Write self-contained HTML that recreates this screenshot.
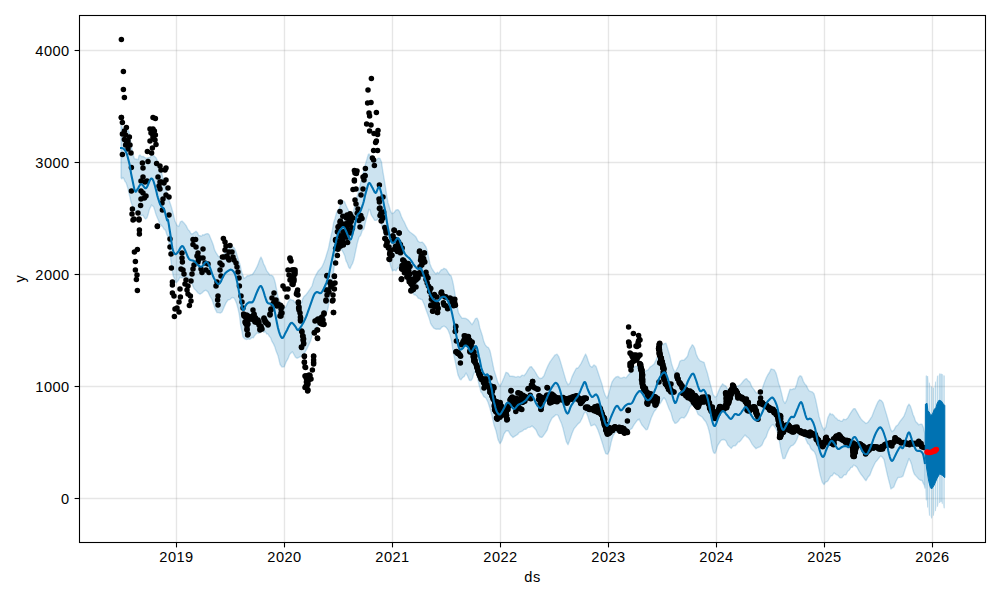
<!DOCTYPE html>
<html><head><meta charset="utf-8"><title>forecast</title>
<style>
html,body{margin:0;padding:0;background:#fff;}
body{width:1000px;height:600px;overflow:hidden;font-family:"Liberation Sans",sans-serif;}
svg{display:block}
text{font-family:"Liberation Sans",sans-serif;font-size:14.6px;fill:#000;letter-spacing:0.45px}
</style></head><body>
<svg width="1000" height="600" viewBox="0 0 1000 600">
<rect width="1000" height="600" fill="#fff"/>
<g stroke="#808080" stroke-opacity="0.2" stroke-width="1.39"><line x1="176.5" y1="15.5" x2="176.5" y2="542.5"/><line x1="284.5" y1="15.5" x2="284.5" y2="542.5"/><line x1="392.5" y1="15.5" x2="392.5" y2="542.5"/><line x1="500.5" y1="15.5" x2="500.5" y2="542.5"/><line x1="608.5" y1="15.5" x2="608.5" y2="542.5"/><line x1="716.5" y1="15.5" x2="716.5" y2="542.5"/><line x1="824.5" y1="15.5" x2="824.5" y2="542.5"/><line x1="932.5" y1="15.5" x2="932.5" y2="542.5"/><line x1="79.5" y1="498.5" x2="985.5" y2="498.5"/><line x1="79.5" y1="386.5" x2="985.5" y2="386.5"/><line x1="79.5" y1="274.5" x2="985.5" y2="274.5"/><line x1="79.5" y1="162.5" x2="985.5" y2="162.5"/><line x1="79.5" y1="50.5" x2="985.5" y2="50.5"/></g>
<polygon points="121.0,124.8 121.0,125.2 121.9,126.8 123.0,129.7 124.0,129.9 125.0,130.7 126.0,131.4 127.0,131.1 127.9,130.2 129.0,131.5 130.3,139.3 131.6,147.6 133.0,154.3 134.4,158.8 135.7,158.9 137.0,159.5 138.1,159.5 139.0,155.8 140.0,154.9 140.9,155.9 141.9,156.8 143.0,156.3 144.5,157.3 146.2,158.4 148.0,157.8 149.9,157.6 152.0,154.4 154.0,155.9 156.0,157.8 158.0,161.9 160.0,167.9 162.0,174.2 164.1,183.2 166.0,189.5 167.7,196.4 169.3,200.8 171.0,205.7 173.0,212.8 175.0,221.3 177.0,225.4 178.7,226.4 180.3,221.9 182.0,221.0 184.0,222.9 186.1,225.6 188.0,229.5 189.5,230.9 190.7,233.3 192.0,234.1 193.3,233.3 194.7,232.3 196.0,231.2 197.3,232.4 198.7,235.5 200.0,235.6 201.3,236.4 202.7,234.7 204.0,235.1 205.3,234.1 206.7,233.7 208.0,233.6 209.3,235.0 210.7,238.4 212.0,241.5 213.3,245.0 214.7,250.2 216.0,252.6 217.3,254.7 218.5,256.6 220.0,256.5 221.9,256.0 223.9,254.5 226.0,251.3 228.1,249.3 230.1,246.2 232.0,246.4 233.5,247.2 234.7,248.7 236.0,251.8 237.3,256.1 238.7,260.8 240.0,264.5 241.3,270.6 242.6,274.6 244.0,278.3 245.6,277.5 247.3,275.7 249.0,275.8 250.7,274.9 252.4,274.5 254.0,272.1 255.4,269.8 256.8,267.1 258.0,264.4 259.0,261.6 260.0,258.9 261.0,257.1 262.2,259.5 263.6,263.8 265.0,266.4 266.6,270.6 268.4,272.9 270.0,275.4 271.4,275.3 272.7,275.9 274.0,278.4 275.3,282.8 276.5,288.9 278.0,296.7 279.9,301.7 281.9,305.3 284.0,307.1 285.9,307.1 287.7,302.7 290.0,299.1 291.6,299.9 293.3,300.1 294.5,302.2 295.7,301.8 297.0,303.9 298.5,304.1 300.0,303.2 301.7,302.5 302.7,298.8 304.0,296.5 305.9,294.9 307.9,292.2 310.0,289.2 312.0,286.0 314.0,279.0 316.0,274.9 318.0,271.3 320.1,269.1 322.0,266.7 323.8,262.8 325.4,258.5 327.0,253.1 328.4,248.8 329.7,242.1 331.0,236.0 332.3,230.6 333.6,222.8 335.0,218.5 336.6,212.4 338.4,209.7 340.0,206.6 341.3,202.6 342.5,200.8 343.6,200.9 344.7,201.9 345.8,204.9 347.0,207.5 348.6,210.7 350.3,214.8 352.0,215.8 353.4,211.8 354.7,205.7 356.0,199.3 357.2,196.1 358.4,192.0 360.0,185.5 362.3,176.3 363.6,171.4 364.9,165.9 367.0,158.9 368.3,154.5 369.1,153.9 370.0,155.8 371.2,156.3 372.5,160.2 374.0,161.7 375.9,161.2 378.1,158.1 380.0,158.5 381.5,162.1 382.7,170.5 384.0,178.2 385.3,186.1 386.7,195.3 388.0,202.7 389.3,206.7 390.5,211.2 392.0,213.7 393.9,212.7 396.0,210.0 398.0,209.6 399.7,211.7 401.4,216.6 403.0,219.9 404.6,222.7 406.3,226.6 408.0,229.9 409.9,232.0 412.0,233.5 414.0,235.1 416.0,237.1 418.0,241.1 420.0,242.5 422.1,242.1 424.1,244.1 426.0,247.0 427.4,251.4 428.6,257.3 430.0,264.0 431.8,268.4 433.8,271.5 436.0,274.1 437.3,272.3 438.6,273.5 440.0,271.4 441.4,269.8 442.7,269.6 444.0,268.3 446.3,269.4 448.4,272.8 450.0,275.3 450.9,275.4 451.3,276.6 452.0,278.7 453.2,283.7 454.6,291.7 456.0,300.3 457.3,307.0 458.5,312.8 460.0,315.3 461.9,318.1 463.9,318.2 466.0,318.5 468.0,319.8 470.1,322.1 472.0,324.7 473.8,321.8 475.4,318.7 477.0,318.1 478.4,321.0 479.7,327.4 481.0,331.5 482.3,335.5 483.6,340.7 485.0,344.3 486.6,346.6 488.4,347.6 490.0,350.8 491.3,356.7 492.6,363.1 494.0,370.0 495.9,376.0 497.9,382.6 500.0,386.2 502.0,382.3 504.0,377.5 506.0,372.3 508.0,373.1 510.0,376.3 512.0,376.2 514.0,376.5 516.0,377.2 518.0,376.4 520.0,377.1 522.0,375.2 524.0,375.7 526.1,373.1 528.1,369.6 530.0,366.9 531.4,366.6 532.7,368.5 534.0,370.0 535.6,372.5 537.3,375.6 539.0,377.9 540.6,378.5 542.3,377.8 544.0,375.8 545.9,370.5 547.9,365.9 550.0,361.9 552.3,358.7 553.6,356.9 554.8,355.2 557.0,354.2 558.8,356.7 560.3,361.1 562.0,366.9 563.9,373.4 566.0,380.7 568.0,384.9 570.0,383.0 571.9,377.1 574.0,372.6 576.3,368.2 577.6,368.2 578.8,366.9 581.0,363.6 582.7,360.1 584.2,356.7 585.6,354.0 587.0,357.1 588.4,361.6 590.0,365.7 591.9,367.3 593.9,364.9 596.0,366.4 598.0,372.3 600.1,378.6 602.0,384.2 603.7,391.1 605.4,395.7 607.0,398.2 608.6,394.2 610.3,387.7 612.0,382.1 613.9,379.1 616.0,377.0 618.0,376.4 620.0,377.9 622.0,377.9 624.0,377.2 626.0,377.9 628.0,375.3 630.0,373.2 631.9,371.2 633.9,367.3 636.0,366.0 637.3,366.8 638.6,366.8 640.0,368.9 641.4,369.4 642.7,371.1 644.0,372.2 646.1,370.7 648.1,369.8 650.0,367.1 652.0,365.7 654.1,364.0 656.0,360.1 657.7,355.8 659.4,350.5 661.0,345.2 662.7,344.9 664.4,343.6 666.0,343.2 667.4,347.8 668.6,351.7 670.0,356.3 671.6,363.7 673.3,368.9 675.0,372.5 676.6,369.5 678.3,366.3 680.0,361.1 682.0,360.2 684.1,360.0 686.0,358.0 687.5,356.2 688.8,351.6 690.0,348.6 691.1,347.0 692.2,344.7 693.4,345.8 694.8,348.6 696.3,354.4 698.0,358.1 699.9,360.7 702.0,361.6 704.0,362.3 705.7,367.9 707.3,372.7 709.0,379.5 711.0,386.6 713.0,394.4 715.0,397.2 716.8,396.0 718.4,391.6 720.0,387.9 721.3,385.8 722.6,383.8 724.0,385.2 725.8,386.0 727.8,389.6 730.0,391.6 731.3,389.8 732.6,391.0 734.0,389.5 735.4,387.6 736.7,386.4 738.0,385.9 740.2,384.9 742.2,382.5 744.0,380.2 745.4,379.0 746.6,378.6 748.0,380.6 749.9,382.1 751.9,386.9 754.0,389.6 756.0,392.6 758.0,393.4 760.0,392.3 762.0,389.8 764.1,383.2 766.0,378.4 767.7,375.0 769.4,372.5 771.0,369.0 772.7,369.4 774.4,370.0 776.0,373.0 777.4,377.9 778.6,383.2 780.0,387.1 781.6,393.4 783.3,400.7 785.0,403.4 786.7,400.1 788.3,394.5 790.0,389.3 791.7,389.6 793.3,388.8 795.0,388.7 796.7,384.2 798.3,378.0 800.0,375.7 801.7,376.7 803.4,381.5 805.0,384.2 806.4,385.6 807.6,388.3 809.0,390.7 810.6,391.5 812.3,391.9 814.0,393.8 815.7,399.9 817.3,407.6 819.0,416.2 820.6,422.0 822.3,426.9 824.0,429.9 825.9,427.0 827.8,417.9 830.0,413.3 831.3,414.7 832.5,414.2 833.9,415.7 835.3,417.7 836.6,418.4 838.0,420.1 839.4,420.3 840.8,421.3 842.2,421.2 843.6,419.1 844.8,419.6 846.0,419.5 847.9,417.7 849.5,414.8 851.0,412.3 852.3,410.5 853.6,408.7 855.0,408.6 856.9,411.8 859.0,415.6 861.0,418.9 862.7,420.8 864.3,422.0 866.0,423.5 867.9,422.3 870.0,419.3 872.0,416.3 874.0,411.0 876.1,405.9 878.0,401.8 879.7,399.8 881.4,400.6 883.0,402.6 884.7,408.6 886.4,414.1 888.0,419.7 889.3,424.6 890.6,429.1 892.0,431.7 893.9,430.1 895.9,426.4 898.0,424.7 900.0,421.4 902.1,418.8 904.0,416.1 905.8,411.4 907.4,406.6 909.0,404.1 910.4,406.1 911.7,409.9 913.0,414.5 914.3,417.4 915.6,421.4 917.0,422.7 918.7,424.8 920.4,424.2 922.0,424.2 923.3,427.2 924.3,431.6 925.0,434.0 925.0,488.0 924.3,485.2 923.3,483.4 922.0,480.4 920.4,480.2 918.7,479.0 917.0,477.1 915.6,475.6 914.3,474.0 913.0,470.6 911.7,464.8 910.5,461.4 909.0,458.6 907.1,464.0 905.0,469.7 903.0,476.1 901.3,477.1 899.7,477.4 898.0,477.5 896.0,481.3 893.8,487.0 892.0,488.1 890.9,488.9 890.0,485.2 889.0,481.3 887.5,475.4 885.7,467.3 884.0,459.5 882.4,457.3 880.8,455.9 879.0,457.9 876.8,460.8 875.6,462.0 874.3,464.5 872.0,469.4 869.9,475.0 867.9,477.3 866.0,480.7 864.3,478.7 862.7,476.4 861.0,474.3 859.0,471.1 856.9,467.2 855.0,465.6 853.6,465.1 852.3,467.2 851.0,467.4 849.4,470.0 847.8,471.2 846.0,474.7 844.1,474.9 842.0,477.7 840.0,477.9 838.1,475.5 836.3,474.6 834.0,472.9 832.4,475.5 830.7,476.2 829.5,478.1 828.3,480.2 827.0,481.7 825.5,482.2 824.0,484.6 822.2,482.1 821.1,478.4 820.0,474.1 818.7,468.0 817.4,461.6 816.0,455.6 814.4,451.7 812.7,450.4 811.0,448.8 809.3,444.8 807.7,443.4 806.0,439.7 804.4,436.1 802.7,431.6 801.0,429.9 799.1,433.0 797.0,439.3 795.0,443.1 793.0,445.2 791.0,446.0 789.0,448.7 787.0,453.1 784.9,458.5 783.0,458.6 781.3,451.8 779.6,442.3 778.0,434.0 776.3,429.3 774.7,426.9 773.0,424.5 771.4,425.6 769.7,428.2 768.0,431.5 766.1,437.2 764.0,440.2 762.0,445.0 760.0,446.8 758.0,447.5 756.0,448.7 754.0,446.6 751.9,443.8 750.0,440.2 748.3,437.8 746.8,436.8 745.0,435.1 742.9,437.6 740.5,440.8 739.2,442.1 738.0,442.1 736.7,444.3 735.3,445.8 733.9,445.6 732.6,446.6 731.3,448.4 730.0,447.2 727.8,445.0 725.9,440.8 724.0,439.5 722.2,439.7 720.6,440.8 719.0,443.4 717.6,445.6 716.2,450.4 715.0,453.5 713.9,452.9 713.0,451.1 712.0,447.0 711.1,441.9 710.1,435.5 709.0,430.8 707.5,425.6 705.8,421.8 704.0,419.7 702.1,417.0 700.0,415.7 698.0,414.2 696.0,409.3 694.0,406.4 692.0,404.8 690.0,406.7 688.0,411.9 686.0,415.8 684.0,418.1 681.9,417.4 680.0,418.7 678.3,421.3 676.7,422.8 675.0,423.4 673.0,420.2 671.0,412.7 669.0,408.8 667.2,403.9 665.6,399.7 664.0,397.7 662.7,399.4 661.4,401.6 660.0,403.8 658.1,406.0 655.9,409.5 654.0,411.7 652.5,415.1 651.3,417.8 650.0,421.7 648.7,425.7 647.5,429.3 646.0,429.8 644.0,427.4 641.8,424.8 640.0,421.3 639.2,418.9 638.8,420.0 638.0,419.5 636.3,421.7 634.1,424.7 632.0,428.4 630.0,429.8 628.1,431.8 626.0,434.1 623.7,433.1 622.5,432.1 621.3,432.3 619.0,431.7 616.9,432.1 614.9,432.8 613.0,436.0 611.2,442.1 609.4,450.8 607.6,454.3 605.8,453.7 603.9,448.4 602.0,442.0 600.0,435.9 597.9,429.9 596.0,426.0 594.3,424.3 592.6,425.3 591.0,425.9 589.4,421.6 587.7,416.0 586.0,411.7 584.1,413.2 582.0,418.4 580.0,422.3 578.0,423.9 576.0,426.4 574.0,428.7 572.0,433.5 569.9,439.7 568.0,444.7 566.3,441.7 564.6,434.9 563.0,428.3 561.4,423.1 559.7,419.5 558.0,415.3 556.1,414.6 554.1,416.4 552.0,418.1 549.7,422.8 548.4,426.0 547.2,430.0 545.0,433.3 543.2,435.9 541.7,437.4 540.0,437.0 538.1,434.7 536.0,429.9 534.0,427.8 532.1,425.9 530.1,427.3 528.0,427.4 526.7,428.6 525.4,429.3 524.1,429.4 522.7,430.8 521.3,431.5 520.0,432.1 518.8,432.8 517.6,434.5 515.3,435.9 513.0,437.5 510.6,435.1 508.3,430.8 506.0,431.0 503.9,434.2 502.0,440.3 500.0,443.7 498.0,439.6 496.0,430.7 494.0,424.9 492.0,416.0 490.0,408.5 488.0,402.3 485.9,398.0 483.8,396.7 482.0,393.1 480.8,391.7 480.0,388.1 479.0,384.7 477.7,378.6 476.4,373.9 475.0,371.5 473.7,373.8 472.4,378.6 471.0,380.5 469.4,380.2 467.7,376.2 466.0,373.0 464.3,376.5 462.5,377.7 461.0,379.8 459.9,379.1 459.0,377.1 458.0,374.9 456.7,368.9 455.4,362.4 454.0,355.8 452.7,348.9 451.5,341.2 450.0,335.0 448.1,330.2 446.1,327.4 444.0,326.1 442.0,327.0 440.0,329.2 438.0,329.0 435.9,329.2 433.9,328.2 432.0,325.8 430.6,323.4 429.4,319.1 428.0,315.1 426.2,310.3 424.2,304.2 422.0,299.5 420.8,299.4 419.6,298.5 418.2,298.2 416.9,296.1 415.4,295.0 414.0,294.8 412.3,291.0 410.6,287.6 409.3,284.6 408.1,282.8 406.9,280.8 405.4,276.4 404.0,274.4 402.6,269.4 401.9,267.2 401.0,265.3 399.5,266.6 397.7,267.9 396.0,270.8 394.3,269.9 392.5,270.9 391.0,267.0 389.9,263.1 389.1,258.2 388.0,251.5 386.4,244.8 384.7,235.9 383.0,230.4 381.6,225.3 380.2,220.1 379.0,217.1 378.0,218.8 377.0,219.9 376.0,220.4 374.7,220.4 373.3,218.2 372.0,216.2 371.0,214.4 370.1,210.0 369.0,209.2 367.5,214.9 365.7,221.0 364.0,228.8 362.3,230.6 360.7,235.2 359.0,237.2 357.3,243.3 355.6,251.3 354.0,259.0 352.6,263.5 351.3,265.7 350.0,268.7 348.7,267.3 347.3,263.2 346.0,260.8 344.7,255.6 343.5,253.0 342.0,250.2 340.2,249.0 338.2,250.2 336.0,256.4 334.7,263.0 333.5,272.0 332.1,281.4 330.7,291.3 329.4,299.4 328.0,308.6 326.6,312.7 325.3,315.9 323.9,319.3 322.5,321.5 321.3,321.7 320.0,324.1 317.8,325.8 315.9,328.7 314.0,329.6 312.3,334.8 310.7,340.6 309.0,344.4 307.1,348.4 305.0,352.2 303.0,354.5 300.9,356.4 298.9,357.4 297.0,358.3 295.4,357.1 293.9,354.3 292.4,351.8 291.0,353.1 289.6,354.4 288.0,358.7 286.1,361.9 284.1,366.9 282.0,367.1 280.1,364.5 278.1,356.1 276.0,350.8 274.7,346.6 273.5,343.9 272.1,341.7 270.7,337.9 269.4,336.4 268.0,334.0 266.7,334.0 265.3,331.5 264.0,332.3 262.7,330.6 261.3,331.1 260.0,332.8 258.6,333.3 257.3,332.9 255.9,334.1 254.6,335.7 253.3,337.9 252.0,337.4 250.7,338.8 249.4,339.3 248.2,338.9 247.0,339.5 245.0,339.1 243.7,337.8 242.9,336.7 242.0,331.5 240.7,325.6 239.4,315.2 238.0,308.5 236.7,303.8 235.5,300.7 234.0,298.0 232.1,297.5 230.1,299.4 228.0,300.0 226.0,302.9 223.9,307.6 222.0,312.0 220.3,313.1 218.6,312.6 217.0,312.6 215.4,309.4 213.7,304.8 212.0,299.5 210.1,296.5 208.0,291.9 206.0,290.2 204.0,291.0 202.0,293.0 200.0,294.2 198.0,293.0 196.0,290.5 194.0,288.6 192.1,283.8 190.1,281.3 188.0,277.3 186.7,276.9 185.3,276.3 183.9,276.9 182.4,277.8 181.2,277.9 180.0,277.1 178.4,280.6 177.2,281.8 176.0,282.9 174.7,279.0 173.3,276.1 172.0,269.5 170.8,260.0 169.6,247.3 168.0,236.7 166.7,234.3 165.5,230.2 164.0,229.1 162.5,226.5 161.3,225.4 160.0,224.4 158.4,220.2 157.2,217.4 156.0,214.5 154.7,210.1 153.5,206.5 152.4,205.8 151.5,205.1 150.8,206.8 150.0,208.1 149.1,210.6 148.1,214.6 147.0,217.7 145.7,219.0 144.3,217.7 143.0,215.2 141.9,215.5 141.0,215.6 140.0,214.5 139.0,212.8 138.1,213.1 137.0,212.7 135.7,211.2 134.3,209.3 133.0,207.8 131.9,204.6 131.0,202.1 130.0,197.5 129.0,193.3 128.0,188.7 127.0,185.5 126.0,182.6 125.0,181.5 124.0,179.0 122.9,177.4 121.9,178.9 121.0,177.9 121.0,177.9 121.0,176.3 121.0,177.0" fill="#0072B2" fill-opacity="0.2" stroke="#0072B2" stroke-opacity="0.2" stroke-width="1.39" stroke-linejoin="round"/>
<polygon points="926.0,376.0 927.8,376.0 929.4,383.0 931.5,386.7 933.5,388.0 935.5,382.0 937.5,376.0 940.0,374.0 942.0,374.0 944.8,376.0 944.8,509.5 943.5,506.2 941.3,501.3 939.6,502.4 936.9,507.3 934.1,514.0 931.9,518.4 929.2,515.0 927.0,504.0 924.8,488.6" fill="#0072B2" fill-opacity="0.08"/>
<g stroke="#0072B2" stroke-opacity="0.2" stroke-linecap="round"><line x1="926.4" y1="376.0" x2="926.4" y2="499.8" stroke-width="1.6"/><line x1="927.6" y1="376.5" x2="927.6" y2="507.0" stroke-width="1.2"/><line x1="929.4" y1="383.0" x2="929.4" y2="515.3" stroke-width="1.1"/><line x1="931.5" y1="386.7" x2="931.5" y2="517.9" stroke-width="1.1"/><line x1="933.5" y1="388.0" x2="933.5" y2="515.2" stroke-width="1.1"/><line x1="935.5" y1="382.0" x2="935.5" y2="510.6" stroke-width="1.1"/><line x1="937.5" y1="376.0" x2="937.5" y2="506.2" stroke-width="1.2"/><line x1="939.6" y1="374.0" x2="939.6" y2="502.4" stroke-width="1.3"/><line x1="941.0" y1="374.0" x2="941.0" y2="501.5" stroke-width="1.3"/><line x1="942.2" y1="374.5" x2="942.2" y2="503.3" stroke-width="1.2"/><line x1="944.1" y1="376.0" x2="944.1" y2="507.7" stroke-width="1.3"/></g>
<g fill="#000"><circle cx="121.4" cy="39.4" r="2.75"/><circle cx="121.4" cy="117.4" r="2.75"/><circle cx="121.4" cy="117.6" r="2.75"/><circle cx="122.4" cy="122.4" r="2.75"/><circle cx="122.4" cy="134.0" r="2.75"/><circle cx="122.4" cy="154.4" r="2.75"/><circle cx="123.4" cy="71.4" r="2.75"/><circle cx="123.4" cy="89.4" r="2.75"/><circle cx="124.4" cy="97.4" r="2.75"/><circle cx="124.4" cy="131.0" r="2.75"/><circle cx="124.4" cy="139.6" r="2.75"/><circle cx="125.6" cy="135.0" r="2.75"/><circle cx="125.6" cy="145.0" r="2.75"/><circle cx="126.4" cy="127.6" r="2.75"/><circle cx="126.6" cy="142.6" r="2.75"/><circle cx="128.0" cy="141.0" r="2.75"/><circle cx="128.0" cy="149.0" r="2.75"/><circle cx="129.4" cy="137.0" r="2.75"/><circle cx="130.0" cy="145.0" r="2.75"/><circle cx="131.0" cy="153.0" r="2.75"/><circle cx="131.4" cy="167.6" r="2.75"/><circle cx="131.4" cy="191.0" r="2.75"/><circle cx="132.0" cy="214.0" r="2.75"/><circle cx="132.4" cy="209.0" r="2.75"/><circle cx="133.0" cy="220.0" r="2.75"/><circle cx="134.0" cy="219.0" r="2.75"/><circle cx="134.4" cy="252.0" r="2.75"/><circle cx="135.4" cy="261.4" r="2.75"/><circle cx="135.4" cy="270.0" r="2.75"/><circle cx="136.4" cy="279.4" r="2.75"/><circle cx="137.0" cy="275.0" r="2.75"/><circle cx="137.4" cy="249.6" r="2.75"/><circle cx="137.4" cy="290.4" r="2.75"/><circle cx="138.0" cy="213.0" r="2.75"/><circle cx="139.0" cy="219.0" r="2.75"/><circle cx="139.0" cy="220.0" r="2.75"/><circle cx="139.4" cy="230.0" r="2.75"/><circle cx="139.4" cy="234.0" r="2.75"/><circle cx="140.6" cy="205.6" r="2.75"/><circle cx="141.0" cy="181.0" r="2.75"/><circle cx="141.0" cy="191.0" r="2.75"/><circle cx="141.0" cy="199.0" r="2.75"/><circle cx="142.4" cy="163.0" r="2.75"/><circle cx="143.0" cy="168.0" r="2.75"/><circle cx="143.0" cy="177.0" r="2.75"/><circle cx="143.0" cy="193.0" r="2.75"/><circle cx="144.4" cy="198.0" r="2.75"/><circle cx="145.0" cy="182.0" r="2.75"/><circle cx="146.0" cy="196.0" r="2.75"/><circle cx="147.0" cy="181.0" r="2.75"/><circle cx="147.4" cy="151.4" r="2.75"/><circle cx="148.0" cy="161.4" r="2.75"/><circle cx="150.0" cy="129.0" r="2.75"/><circle cx="150.0" cy="141.0" r="2.75"/><circle cx="151.0" cy="133.0" r="2.75"/><circle cx="151.6" cy="153.0" r="2.75"/><circle cx="152.2" cy="130.5" r="2.75"/><circle cx="152.4" cy="148.0" r="2.75"/><circle cx="152.7" cy="131.8" r="2.75"/><circle cx="152.7" cy="134.0" r="2.75"/><circle cx="153.0" cy="117.4" r="2.75"/><circle cx="153.0" cy="129.0" r="2.75"/><circle cx="153.0" cy="137.0" r="2.75"/><circle cx="153.4" cy="138.4" r="2.75"/><circle cx="154.4" cy="131.0" r="2.75"/><circle cx="155.0" cy="140.0" r="2.75"/><circle cx="155.4" cy="118.4" r="2.75"/><circle cx="155.4" cy="135.0" r="2.75"/><circle cx="156.0" cy="144.4" r="2.75"/><circle cx="156.6" cy="163.4" r="2.75"/><circle cx="157.4" cy="226.0" r="2.75"/><circle cx="157.4" cy="226.4" r="2.75"/><circle cx="158.0" cy="177.0" r="2.75"/><circle cx="159.0" cy="186.0" r="2.75"/><circle cx="160.0" cy="166.0" r="2.75"/><circle cx="160.0" cy="182.0" r="2.75"/><circle cx="160.0" cy="189.0" r="2.75"/><circle cx="161.0" cy="170.0" r="2.75"/><circle cx="161.5" cy="182.0" r="2.75"/><circle cx="162.0" cy="203.0" r="2.75"/><circle cx="162.4" cy="210.0" r="2.75"/><circle cx="163.0" cy="199.0" r="2.75"/><circle cx="164.0" cy="183.0" r="2.75"/><circle cx="165.0" cy="170.0" r="2.75"/><circle cx="166.0" cy="168.0" r="2.75"/><circle cx="166.0" cy="180.0" r="2.75"/><circle cx="166.0" cy="195.0" r="2.75"/><circle cx="168.0" cy="188.0" r="2.75"/><circle cx="169.0" cy="197.0" r="2.75"/><circle cx="169.0" cy="215.0" r="2.75"/><circle cx="170.0" cy="239.0" r="2.75"/><circle cx="170.0" cy="247.0" r="2.75"/><circle cx="171.0" cy="254.0" r="2.75"/><circle cx="171.4" cy="268.0" r="2.75"/><circle cx="172.4" cy="282.0" r="2.75"/><circle cx="172.4" cy="285.0" r="2.75"/><circle cx="172.4" cy="293.0" r="2.75"/><circle cx="174.0" cy="296.0" r="2.75"/><circle cx="174.4" cy="316.6" r="2.75"/><circle cx="175.0" cy="309.0" r="2.75"/><circle cx="177.0" cy="308.0" r="2.75"/><circle cx="179.0" cy="302.0" r="2.75"/><circle cx="179.0" cy="312.0" r="2.75"/><circle cx="180.0" cy="289.0" r="2.75"/><circle cx="180.4" cy="297.0" r="2.75"/><circle cx="181.0" cy="269.0" r="2.75"/><circle cx="182.0" cy="253.0" r="2.75"/><circle cx="182.0" cy="258.0" r="2.75"/><circle cx="182.4" cy="262.0" r="2.75"/><circle cx="183.0" cy="270.0" r="2.75"/><circle cx="184.0" cy="274.0" r="2.75"/><circle cx="185.0" cy="284.0" r="2.75"/><circle cx="186.0" cy="280.0" r="2.75"/><circle cx="187.0" cy="290.0" r="2.75"/><circle cx="188.0" cy="286.0" r="2.75"/><circle cx="188.0" cy="294.0" r="2.75"/><circle cx="189.4" cy="305.6" r="2.75"/><circle cx="190.4" cy="296.0" r="2.75"/><circle cx="191.0" cy="281.0" r="2.75"/><circle cx="191.0" cy="301.0" r="2.75"/><circle cx="192.0" cy="274.0" r="2.75"/><circle cx="193.0" cy="239.4" r="2.75"/><circle cx="193.0" cy="244.4" r="2.75"/><circle cx="193.0" cy="269.0" r="2.75"/><circle cx="194.0" cy="265.0" r="2.75"/><circle cx="195.6" cy="239.4" r="2.75"/><circle cx="196.0" cy="247.0" r="2.75"/><circle cx="197.0" cy="256.0" r="2.75"/><circle cx="198.0" cy="253.0" r="2.75"/><circle cx="198.0" cy="262.0" r="2.75"/><circle cx="198.4" cy="257.4" r="2.75"/><circle cx="198.5" cy="259.7" r="2.75"/><circle cx="200.0" cy="258.0" r="2.75"/><circle cx="201.0" cy="269.0" r="2.75"/><circle cx="202.0" cy="272.4" r="2.75"/><circle cx="203.0" cy="249.0" r="2.75"/><circle cx="203.0" cy="258.0" r="2.75"/><circle cx="205.0" cy="263.0" r="2.75"/><circle cx="206.0" cy="270.0" r="2.75"/><circle cx="208.0" cy="264.0" r="2.75"/><circle cx="209.0" cy="272.4" r="2.75"/><circle cx="216.0" cy="286.0" r="2.75"/><circle cx="217.0" cy="282.0" r="2.75"/><circle cx="217.6" cy="300.0" r="2.75"/><circle cx="218.0" cy="296.0" r="2.75"/><circle cx="218.0" cy="305.0" r="2.75"/><circle cx="220.0" cy="263.0" r="2.75"/><circle cx="220.0" cy="270.0" r="2.75"/><circle cx="221.0" cy="276.0" r="2.75"/><circle cx="222.0" cy="265.0" r="2.75"/><circle cx="222.4" cy="257.0" r="2.75"/><circle cx="223.4" cy="238.4" r="2.75"/><circle cx="224.0" cy="257.0" r="2.75"/><circle cx="225.0" cy="242.0" r="2.75"/><circle cx="225.0" cy="250.0" r="2.75"/><circle cx="226.0" cy="246.0" r="2.75"/><circle cx="227.0" cy="256.0" r="2.75"/><circle cx="228.2" cy="258.5" r="2.75"/><circle cx="229.0" cy="252.0" r="2.75"/><circle cx="229.0" cy="260.0" r="2.75"/><circle cx="230.0" cy="245.4" r="2.75"/><circle cx="232.0" cy="252.0" r="2.75"/><circle cx="233.0" cy="257.0" r="2.75"/><circle cx="234.0" cy="260.0" r="2.75"/><circle cx="236.0" cy="263.0" r="2.75"/><circle cx="237.0" cy="267.0" r="2.75"/><circle cx="238.0" cy="272.0" r="2.75"/><circle cx="239.0" cy="278.0" r="2.75"/><circle cx="239.4" cy="286.0" r="2.75"/><circle cx="241.0" cy="296.0" r="2.75"/><circle cx="242.0" cy="302.0" r="2.75"/><circle cx="243.0" cy="308.0" r="2.75"/><circle cx="243.6" cy="314.0" r="2.75"/><circle cx="244.0" cy="315.0" r="2.75"/><circle cx="244.0" cy="316.0" r="2.75"/><circle cx="245.0" cy="322.0" r="2.75"/><circle cx="245.1" cy="316.4" r="2.75"/><circle cx="245.6" cy="323.5" r="2.75"/><circle cx="246.0" cy="318.0" r="2.75"/><circle cx="246.3" cy="323.4" r="2.75"/><circle cx="246.4" cy="315.7" r="2.75"/><circle cx="246.6" cy="315.0" r="2.75"/><circle cx="247.0" cy="320.0" r="2.75"/><circle cx="247.0" cy="326.0" r="2.75"/><circle cx="247.0" cy="329.0" r="2.75"/><circle cx="247.0" cy="330.0" r="2.75"/><circle cx="247.6" cy="335.0" r="2.75"/><circle cx="248.0" cy="316.0" r="2.75"/><circle cx="248.0" cy="324.0" r="2.75"/><circle cx="248.0" cy="334.0" r="2.75"/><circle cx="248.1" cy="318.6" r="2.75"/><circle cx="249.2" cy="319.3" r="2.75"/><circle cx="249.6" cy="317.0" r="2.75"/><circle cx="251.0" cy="319.0" r="2.75"/><circle cx="252.0" cy="316.6" r="2.75"/><circle cx="253.0" cy="310.0" r="2.75"/><circle cx="253.0" cy="318.0" r="2.75"/><circle cx="253.7" cy="319.4" r="2.75"/><circle cx="253.8" cy="320.1" r="2.75"/><circle cx="254.0" cy="314.0" r="2.75"/><circle cx="254.0" cy="315.0" r="2.75"/><circle cx="255.0" cy="322.0" r="2.75"/><circle cx="255.4" cy="317.7" r="2.75"/><circle cx="255.4" cy="318.8" r="2.75"/><circle cx="256.0" cy="320.0" r="2.75"/><circle cx="256.2" cy="321.1" r="2.75"/><circle cx="257.0" cy="322.5" r="2.75"/><circle cx="258.0" cy="320.0" r="2.75"/><circle cx="259.0" cy="322.0" r="2.75"/><circle cx="259.0" cy="325.0" r="2.75"/><circle cx="260.0" cy="329.0" r="2.75"/><circle cx="260.0" cy="330.0" r="2.75"/><circle cx="260.3" cy="326.2" r="2.75"/><circle cx="261.0" cy="328.0" r="2.75"/><circle cx="261.1" cy="326.5" r="2.75"/><circle cx="262.0" cy="329.0" r="2.75"/><circle cx="264.0" cy="318.0" r="2.75"/><circle cx="264.0" cy="319.0" r="2.75"/><circle cx="264.9" cy="320.3" r="2.75"/><circle cx="265.0" cy="322.0" r="2.75"/><circle cx="266.0" cy="322.0" r="2.75"/><circle cx="266.1" cy="323.0" r="2.75"/><circle cx="268.0" cy="324.0" r="2.75"/><circle cx="268.0" cy="325.0" r="2.75"/><circle cx="270.0" cy="314.0" r="2.75"/><circle cx="270.0" cy="315.0" r="2.75"/><circle cx="271.0" cy="309.0" r="2.75"/><circle cx="271.0" cy="310.0" r="2.75"/><circle cx="272.0" cy="298.0" r="2.75"/><circle cx="273.0" cy="304.0" r="2.75"/><circle cx="273.9" cy="302.2" r="2.75"/><circle cx="274.0" cy="293.0" r="2.75"/><circle cx="275.8" cy="304.1" r="2.75"/><circle cx="276.0" cy="300.0" r="2.75"/><circle cx="277.0" cy="306.0" r="2.75"/><circle cx="278.0" cy="304.0" r="2.75"/><circle cx="280.0" cy="316.0" r="2.75"/><circle cx="280.5" cy="305.3" r="2.75"/><circle cx="281.0" cy="309.0" r="2.75"/><circle cx="281.0" cy="313.0" r="2.75"/><circle cx="281.0" cy="316.0" r="2.75"/><circle cx="282.0" cy="307.0" r="2.75"/><circle cx="282.0" cy="313.0" r="2.75"/><circle cx="283.0" cy="286.0" r="2.75"/><circle cx="285.0" cy="289.0" r="2.75"/><circle cx="287.0" cy="297.0" r="2.75"/><circle cx="288.0" cy="270.0" r="2.75"/><circle cx="288.0" cy="289.0" r="2.75"/><circle cx="289.0" cy="275.0" r="2.75"/><circle cx="290.0" cy="258.0" r="2.75"/><circle cx="290.0" cy="259.0" r="2.75"/><circle cx="290.0" cy="280.0" r="2.75"/><circle cx="291.0" cy="261.0" r="2.75"/><circle cx="291.0" cy="276.0" r="2.75"/><circle cx="292.0" cy="270.0" r="2.75"/><circle cx="292.0" cy="280.0" r="2.75"/><circle cx="292.0" cy="284.0" r="2.75"/><circle cx="293.0" cy="270.0" r="2.75"/><circle cx="293.0" cy="283.0" r="2.75"/><circle cx="293.0" cy="284.4" r="2.75"/><circle cx="294.0" cy="270.0" r="2.75"/><circle cx="294.0" cy="275.0" r="2.75"/><circle cx="294.0" cy="279.0" r="2.75"/><circle cx="294.0" cy="281.0" r="2.75"/><circle cx="295.0" cy="270.0" r="2.75"/><circle cx="295.0" cy="272.0" r="2.75"/><circle cx="295.0" cy="274.0" r="2.75"/><circle cx="296.4" cy="294.0" r="2.75"/><circle cx="297.0" cy="292.0" r="2.75"/><circle cx="297.6" cy="290.0" r="2.75"/><circle cx="298.0" cy="295.0" r="2.75"/><circle cx="298.4" cy="302.0" r="2.75"/><circle cx="298.4" cy="303.0" r="2.75"/><circle cx="298.6" cy="308.0" r="2.75"/><circle cx="299.0" cy="307.0" r="2.75"/><circle cx="299.0" cy="310.0" r="2.75"/><circle cx="300.0" cy="313.0" r="2.75"/><circle cx="300.4" cy="317.0" r="2.75"/><circle cx="300.4" cy="320.0" r="2.75"/><circle cx="300.6" cy="318.0" r="2.75"/><circle cx="300.6" cy="321.0" r="2.75"/><circle cx="301.4" cy="347.0" r="2.75"/><circle cx="301.6" cy="331.0" r="2.75"/><circle cx="301.6" cy="347.6" r="2.75"/><circle cx="302.0" cy="332.0" r="2.75"/><circle cx="302.6" cy="336.0" r="2.75"/><circle cx="303.0" cy="336.0" r="2.75"/><circle cx="303.0" cy="340.0" r="2.75"/><circle cx="303.6" cy="339.0" r="2.75"/><circle cx="303.6" cy="343.0" r="2.75"/><circle cx="303.6" cy="344.0" r="2.75"/><circle cx="304.4" cy="356.0" r="2.75"/><circle cx="304.4" cy="356.4" r="2.75"/><circle cx="304.4" cy="362.0" r="2.75"/><circle cx="304.4" cy="362.4" r="2.75"/><circle cx="305.0" cy="367.0" r="2.75"/><circle cx="305.0" cy="376.0" r="2.75"/><circle cx="305.0" cy="387.6" r="2.75"/><circle cx="305.6" cy="367.4" r="2.75"/><circle cx="305.6" cy="376.0" r="2.75"/><circle cx="306.0" cy="386.0" r="2.75"/><circle cx="306.2" cy="378.1" r="2.75"/><circle cx="306.4" cy="382.0" r="2.75"/><circle cx="306.9" cy="386.3" r="2.75"/><circle cx="307.0" cy="380.0" r="2.75"/><circle cx="307.6" cy="375.7" r="2.75"/><circle cx="307.6" cy="391.0" r="2.75"/><circle cx="307.8" cy="376.0" r="2.75"/><circle cx="308.0" cy="384.0" r="2.75"/><circle cx="308.0" cy="390.0" r="2.75"/><circle cx="308.2" cy="380.7" r="2.75"/><circle cx="308.7" cy="378.4" r="2.75"/><circle cx="309.0" cy="375.0" r="2.75"/><circle cx="309.4" cy="379.2" r="2.75"/><circle cx="310.0" cy="375.6" r="2.75"/><circle cx="311.0" cy="379.0" r="2.75"/><circle cx="312.4" cy="370.0" r="2.75"/><circle cx="313.6" cy="356.0" r="2.75"/><circle cx="313.6" cy="356.4" r="2.75"/><circle cx="313.6" cy="360.0" r="2.75"/><circle cx="313.6" cy="362.4" r="2.75"/><circle cx="313.6" cy="364.0" r="2.75"/><circle cx="314.4" cy="332.4" r="2.75"/><circle cx="314.4" cy="333.0" r="2.75"/><circle cx="315.0" cy="321.0" r="2.75"/><circle cx="317.0" cy="320.0" r="2.75"/><circle cx="317.0" cy="330.0" r="2.75"/><circle cx="317.4" cy="338.0" r="2.75"/><circle cx="317.6" cy="330.0" r="2.75"/><circle cx="317.6" cy="338.4" r="2.75"/><circle cx="318.0" cy="319.0" r="2.75"/><circle cx="320.0" cy="322.0" r="2.75"/><circle cx="320.0" cy="323.0" r="2.75"/><circle cx="321.0" cy="318.0" r="2.75"/><circle cx="321.4" cy="323.5" r="2.75"/><circle cx="321.7" cy="323.9" r="2.75"/><circle cx="322.0" cy="317.0" r="2.75"/><circle cx="323.0" cy="320.0" r="2.75"/><circle cx="323.6" cy="324.4" r="2.75"/><circle cx="324.0" cy="313.0" r="2.75"/><circle cx="324.0" cy="314.0" r="2.75"/><circle cx="324.0" cy="324.0" r="2.75"/><circle cx="326.0" cy="290.0" r="2.75"/><circle cx="326.0" cy="300.0" r="2.75"/><circle cx="326.0" cy="301.0" r="2.75"/><circle cx="327.0" cy="275.4" r="2.75"/><circle cx="327.0" cy="276.0" r="2.75"/><circle cx="327.0" cy="295.0" r="2.75"/><circle cx="328.0" cy="290.0" r="2.75"/><circle cx="329.0" cy="292.0" r="2.75"/><circle cx="330.0" cy="282.0" r="2.75"/><circle cx="330.0" cy="283.0" r="2.75"/><circle cx="331.0" cy="286.0" r="2.75"/><circle cx="331.0" cy="287.0" r="2.75"/><circle cx="332.4" cy="301.0" r="2.75"/><circle cx="333.0" cy="284.0" r="2.75"/><circle cx="333.0" cy="295.0" r="2.75"/><circle cx="333.0" cy="300.0" r="2.75"/><circle cx="333.4" cy="312.6" r="2.75"/><circle cx="333.6" cy="312.4" r="2.75"/><circle cx="334.4" cy="276.0" r="2.75"/><circle cx="334.4" cy="276.6" r="2.75"/><circle cx="334.4" cy="289.0" r="2.75"/><circle cx="335.0" cy="283.0" r="2.75"/><circle cx="335.6" cy="239.6" r="2.75"/><circle cx="335.6" cy="240.4" r="2.75"/><circle cx="335.6" cy="248.6" r="2.75"/><circle cx="335.6" cy="263.0" r="2.75"/><circle cx="337.4" cy="231.8" r="2.75"/><circle cx="337.4" cy="245.0" r="2.75"/><circle cx="337.4" cy="255.6" r="2.75"/><circle cx="337.6" cy="248.0" r="2.75"/><circle cx="338.0" cy="227.0" r="2.75"/><circle cx="338.0" cy="232.0" r="2.75"/><circle cx="338.0" cy="249.2" r="2.75"/><circle cx="339.0" cy="226.0" r="2.75"/><circle cx="339.8" cy="240.8" r="2.75"/><circle cx="340.0" cy="211.4" r="2.75"/><circle cx="340.0" cy="222.0" r="2.75"/><circle cx="340.0" cy="236.0" r="2.75"/><circle cx="340.4" cy="202.0" r="2.75"/><circle cx="340.4" cy="221.0" r="2.75"/><circle cx="340.4" cy="236.0" r="2.75"/><circle cx="340.4" cy="246.2" r="2.75"/><circle cx="341.0" cy="245.0" r="2.75"/><circle cx="341.6" cy="224.6" r="2.75"/><circle cx="342.8" cy="216.2" r="2.75"/><circle cx="342.8" cy="241.4" r="2.75"/><circle cx="343.0" cy="239.0" r="2.75"/><circle cx="343.4" cy="231.8" r="2.75"/><circle cx="343.4" cy="245.0" r="2.75"/><circle cx="344.0" cy="224.0" r="2.75"/><circle cx="344.0" cy="234.0" r="2.75"/><circle cx="344.0" cy="236.6" r="2.75"/><circle cx="346.0" cy="226.0" r="2.75"/><circle cx="346.4" cy="218.0" r="2.75"/><circle cx="346.4" cy="227.0" r="2.75"/><circle cx="346.4" cy="233.6" r="2.75"/><circle cx="347.0" cy="215.0" r="2.75"/><circle cx="347.0" cy="237.2" r="2.75"/><circle cx="347.6" cy="222.8" r="2.75"/><circle cx="347.6" cy="242.4" r="2.75"/><circle cx="348.0" cy="230.0" r="2.75"/><circle cx="349.0" cy="224.0" r="2.75"/><circle cx="350.0" cy="213.8" r="2.75"/><circle cx="350.0" cy="220.0" r="2.75"/><circle cx="350.0" cy="225.2" r="2.75"/><circle cx="350.6" cy="233.0" r="2.75"/><circle cx="351.0" cy="216.0" r="2.75"/><circle cx="351.2" cy="221.6" r="2.75"/><circle cx="352.4" cy="228.2" r="2.75"/><circle cx="353.0" cy="189.6" r="2.75"/><circle cx="353.0" cy="218.0" r="2.75"/><circle cx="354.4" cy="170.4" r="2.75"/><circle cx="354.4" cy="180.0" r="2.75"/><circle cx="354.4" cy="181.0" r="2.75"/><circle cx="355.0" cy="173.0" r="2.75"/><circle cx="355.0" cy="200.0" r="2.75"/><circle cx="356.0" cy="189.0" r="2.75"/><circle cx="356.0" cy="204.0" r="2.75"/><circle cx="356.4" cy="173.6" r="2.75"/><circle cx="357.0" cy="171.0" r="2.75"/><circle cx="357.2" cy="213.2" r="2.75"/><circle cx="358.0" cy="209.0" r="2.75"/><circle cx="359.0" cy="220.4" r="2.75"/><circle cx="360.0" cy="227.0" r="2.75"/><circle cx="360.8" cy="215.6" r="2.75"/><circle cx="361.0" cy="195.0" r="2.75"/><circle cx="361.0" cy="218.0" r="2.75"/><circle cx="362.0" cy="218.6" r="2.75"/><circle cx="363.0" cy="177.0" r="2.75"/><circle cx="363.0" cy="189.0" r="2.75"/><circle cx="364.0" cy="180.0" r="2.75"/><circle cx="365.0" cy="175.6" r="2.75"/><circle cx="365.0" cy="176.0" r="2.75"/><circle cx="365.4" cy="168.4" r="2.75"/><circle cx="366.6" cy="124.0" r="2.75"/><circle cx="367.6" cy="103.0" r="2.75"/><circle cx="368.0" cy="90.0" r="2.75"/><circle cx="369.0" cy="113.0" r="2.75"/><circle cx="369.6" cy="116.0" r="2.75"/><circle cx="369.6" cy="131.0" r="2.75"/><circle cx="371.0" cy="102.6" r="2.75"/><circle cx="371.0" cy="125.0" r="2.75"/><circle cx="371.4" cy="78.4" r="2.75"/><circle cx="372.4" cy="158.0" r="2.75"/><circle cx="373.6" cy="150.6" r="2.75"/><circle cx="373.6" cy="160.0" r="2.75"/><circle cx="374.0" cy="133.6" r="2.75"/><circle cx="374.4" cy="165.4" r="2.75"/><circle cx="375.6" cy="142.4" r="2.75"/><circle cx="376.4" cy="112.6" r="2.75"/><circle cx="376.4" cy="141.0" r="2.75"/><circle cx="377.6" cy="134.4" r="2.75"/><circle cx="377.6" cy="150.6" r="2.75"/><circle cx="378.0" cy="130.4" r="2.75"/><circle cx="379.0" cy="199.0" r="2.75"/><circle cx="379.4" cy="185.0" r="2.75"/><circle cx="379.4" cy="202.0" r="2.75"/><circle cx="379.4" cy="208.4" r="2.75"/><circle cx="380.0" cy="208.0" r="2.75"/><circle cx="380.0" cy="215.6" r="2.75"/><circle cx="381.0" cy="213.0" r="2.75"/><circle cx="381.2" cy="221.0" r="2.75"/><circle cx="381.6" cy="220.4" r="2.75"/><circle cx="381.8" cy="212.6" r="2.75"/><circle cx="382.4" cy="217.0" r="2.75"/><circle cx="383.0" cy="197.0" r="2.75"/><circle cx="383.0" cy="218.0" r="2.75"/><circle cx="383.6" cy="212.0" r="2.75"/><circle cx="384.8" cy="227.6" r="2.75"/><circle cx="384.8" cy="238.4" r="2.75"/><circle cx="385.6" cy="229.0" r="2.75"/><circle cx="385.6" cy="239.0" r="2.75"/><circle cx="386.0" cy="231.8" r="2.75"/><circle cx="386.0" cy="245.6" r="2.75"/><circle cx="386.4" cy="233.0" r="2.75"/><circle cx="387.0" cy="243.0" r="2.75"/><circle cx="387.2" cy="241.4" r="2.75"/><circle cx="388.4" cy="248.0" r="2.75"/><circle cx="389.0" cy="247.0" r="2.75"/><circle cx="389.0" cy="259.0" r="2.75"/><circle cx="389.6" cy="254.0" r="2.75"/><circle cx="389.6" cy="259.4" r="2.75"/><circle cx="390.0" cy="252.0" r="2.75"/><circle cx="390.8" cy="250.4" r="2.75"/><circle cx="391.0" cy="256.0" r="2.75"/><circle cx="392.0" cy="255.2" r="2.75"/><circle cx="392.6" cy="236.0" r="2.75"/><circle cx="393.0" cy="236.0" r="2.75"/><circle cx="393.2" cy="240.8" r="2.75"/><circle cx="394.0" cy="230.0" r="2.75"/><circle cx="394.4" cy="230.6" r="2.75"/><circle cx="394.4" cy="249.2" r="2.75"/><circle cx="395.6" cy="239.6" r="2.75"/><circle cx="395.6" cy="246.2" r="2.75"/><circle cx="396.0" cy="248.0" r="2.75"/><circle cx="397.4" cy="251.6" r="2.75"/><circle cx="398.0" cy="245.0" r="2.75"/><circle cx="398.0" cy="251.0" r="2.75"/><circle cx="398.6" cy="242.0" r="2.75"/><circle cx="398.6" cy="247.4" r="2.75"/><circle cx="399.0" cy="233.0" r="2.75"/><circle cx="399.2" cy="233.0" r="2.75"/><circle cx="400.4" cy="244.4" r="2.75"/><circle cx="400.4" cy="252.8" r="2.75"/><circle cx="401.0" cy="252.0" r="2.75"/><circle cx="401.4" cy="279.0" r="2.75"/><circle cx="401.4" cy="279.4" r="2.75"/><circle cx="401.6" cy="268.4" r="2.75"/><circle cx="401.6" cy="279.0" r="2.75"/><circle cx="402.0" cy="265.6" r="2.75"/><circle cx="402.0" cy="269.2" r="2.75"/><circle cx="402.2" cy="248.0" r="2.75"/><circle cx="402.8" cy="260.0" r="2.75"/><circle cx="403.0" cy="269.0" r="2.75"/><circle cx="403.2" cy="260.2" r="2.75"/><circle cx="403.4" cy="265.4" r="2.75"/><circle cx="404.0" cy="261.0" r="2.75"/><circle cx="404.4" cy="272.8" r="2.75"/><circle cx="405.0" cy="263.2" r="2.75"/><circle cx="405.0" cy="265.0" r="2.75"/><circle cx="405.0" cy="270.0" r="2.75"/><circle cx="405.2" cy="262.4" r="2.75"/><circle cx="405.2" cy="270.2" r="2.75"/><circle cx="406.0" cy="272.0" r="2.75"/><circle cx="406.2" cy="269.8" r="2.75"/><circle cx="406.4" cy="267.2" r="2.75"/><circle cx="406.8" cy="277.0" r="2.75"/><circle cx="407.4" cy="265.6" r="2.75"/><circle cx="408.0" cy="266.0" r="2.75"/><circle cx="408.0" cy="274.0" r="2.75"/><circle cx="408.0" cy="276.0" r="2.75"/><circle cx="408.2" cy="263.6" r="2.75"/><circle cx="408.8" cy="270.8" r="2.75"/><circle cx="409.0" cy="279.0" r="2.75"/><circle cx="409.2" cy="281.8" r="2.75"/><circle cx="409.8" cy="278.8" r="2.75"/><circle cx="410.0" cy="266.6" r="2.75"/><circle cx="410.0" cy="274.0" r="2.75"/><circle cx="410.0" cy="282.0" r="2.75"/><circle cx="411.0" cy="284.0" r="2.75"/><circle cx="411.0" cy="290.2" r="2.75"/><circle cx="411.0" cy="291.0" r="2.75"/><circle cx="411.6" cy="284.2" r="2.75"/><circle cx="412.0" cy="290.0" r="2.75"/><circle cx="412.8" cy="286.6" r="2.75"/><circle cx="413.0" cy="286.0" r="2.75"/><circle cx="413.4" cy="289.6" r="2.75"/><circle cx="414.0" cy="278.8" r="2.75"/><circle cx="414.0" cy="282.0" r="2.75"/><circle cx="414.6" cy="272.8" r="2.75"/><circle cx="415.8" cy="275.8" r="2.75"/><circle cx="416.0" cy="274.0" r="2.75"/><circle cx="416.0" cy="280.0" r="2.75"/><circle cx="416.0" cy="287.0" r="2.75"/><circle cx="417.0" cy="278.8" r="2.75"/><circle cx="417.6" cy="274.0" r="2.75"/><circle cx="418.0" cy="276.0" r="2.75"/><circle cx="418.0" cy="278.0" r="2.75"/><circle cx="419.4" cy="251.8" r="2.75"/><circle cx="419.4" cy="272.8" r="2.75"/><circle cx="419.6" cy="251.0" r="2.75"/><circle cx="420.0" cy="266.8" r="2.75"/><circle cx="420.6" cy="260.2" r="2.75"/><circle cx="421.0" cy="258.0" r="2.75"/><circle cx="421.2" cy="256.0" r="2.75"/><circle cx="421.8" cy="265.0" r="2.75"/><circle cx="422.0" cy="263.0" r="2.75"/><circle cx="422.0" cy="274.0" r="2.75"/><circle cx="423.0" cy="262.6" r="2.75"/><circle cx="423.6" cy="258.4" r="2.75"/><circle cx="424.0" cy="261.0" r="2.75"/><circle cx="424.2" cy="253.0" r="2.75"/><circle cx="424.4" cy="253.0" r="2.75"/><circle cx="424.8" cy="262.0" r="2.75"/><circle cx="426.0" cy="272.2" r="2.75"/><circle cx="426.0" cy="279.4" r="2.75"/><circle cx="426.6" cy="275.8" r="2.75"/><circle cx="427.2" cy="283.0" r="2.75"/><circle cx="428.0" cy="278.0" r="2.75"/><circle cx="428.4" cy="286.0" r="2.75"/><circle cx="429.6" cy="291.4" r="2.75"/><circle cx="430.0" cy="288.0" r="2.75"/><circle cx="430.8" cy="288.4" r="2.75"/><circle cx="430.8" cy="305.8" r="2.75"/><circle cx="431.0" cy="305.0" r="2.75"/><circle cx="431.4" cy="295.6" r="2.75"/><circle cx="431.4" cy="299.2" r="2.75"/><circle cx="432.6" cy="311.2" r="2.75"/><circle cx="433.0" cy="296.0" r="2.75"/><circle cx="433.0" cy="311.0" r="2.75"/><circle cx="433.8" cy="301.6" r="2.75"/><circle cx="434.4" cy="294.4" r="2.75"/><circle cx="434.4" cy="306.4" r="2.75"/><circle cx="437.0" cy="297.0" r="2.75"/><circle cx="437.4" cy="304.6" r="2.75"/><circle cx="437.4" cy="312.4" r="2.75"/><circle cx="437.6" cy="312.4" r="2.75"/><circle cx="438.0" cy="308.0" r="2.75"/><circle cx="438.0" cy="308.8" r="2.75"/><circle cx="441.0" cy="293.0" r="2.75"/><circle cx="441.6" cy="292.0" r="2.75"/><circle cx="442.8" cy="295.6" r="2.75"/><circle cx="443.4" cy="302.8" r="2.75"/><circle cx="444.0" cy="305.0" r="2.75"/><circle cx="445.0" cy="297.0" r="2.75"/><circle cx="445.8" cy="296.8" r="2.75"/><circle cx="445.8" cy="305.8" r="2.75"/><circle cx="447.6" cy="308.8" r="2.75"/><circle cx="448.0" cy="308.0" r="2.75"/><circle cx="450.0" cy="298.0" r="2.75"/><circle cx="451.8" cy="302.2" r="2.75"/><circle cx="452.4" cy="299.2" r="2.75"/><circle cx="453.6" cy="305.8" r="2.75"/><circle cx="454.0" cy="300.0" r="2.75"/><circle cx="454.8" cy="299.2" r="2.75"/><circle cx="454.8" cy="302.8" r="2.75"/><circle cx="455.0" cy="305.0" r="2.75"/><circle cx="455.2" cy="331.6" r="2.75"/><circle cx="455.4" cy="305.2" r="2.75"/><circle cx="455.6" cy="327.0" r="2.75"/><circle cx="455.6" cy="331.0" r="2.75"/><circle cx="455.8" cy="326.2" r="2.75"/><circle cx="455.8" cy="352.0" r="2.75"/><circle cx="456.4" cy="341.0" r="2.75"/><circle cx="456.4" cy="351.6" r="2.75"/><circle cx="457.5" cy="353.0" r="2.75"/><circle cx="457.7" cy="353.6" r="2.75"/><circle cx="458.2" cy="352.6" r="2.75"/><circle cx="459.0" cy="354.1" r="2.75"/><circle cx="460.0" cy="355.0" r="2.75"/><circle cx="460.4" cy="363.0" r="2.75"/><circle cx="460.6" cy="356.2" r="2.75"/><circle cx="461.2" cy="344.8" r="2.75"/><circle cx="462.0" cy="343.7" r="2.75"/><circle cx="463.0" cy="341.8" r="2.75"/><circle cx="464.0" cy="340.0" r="2.75"/><circle cx="464.2" cy="335.8" r="2.75"/><circle cx="464.6" cy="342.3" r="2.75"/><circle cx="465.0" cy="336.0" r="2.75"/><circle cx="465.5" cy="338.0" r="2.75"/><circle cx="465.7" cy="342.0" r="2.75"/><circle cx="465.8" cy="336.8" r="2.75"/><circle cx="466.0" cy="339.4" r="2.75"/><circle cx="466.1" cy="336.6" r="2.75"/><circle cx="466.8" cy="337.6" r="2.75"/><circle cx="467.0" cy="336.6" r="2.75"/><circle cx="467.2" cy="343.0" r="2.75"/><circle cx="468.0" cy="338.0" r="2.75"/><circle cx="468.1" cy="341.5" r="2.75"/><circle cx="468.4" cy="336.4" r="2.75"/><circle cx="469.0" cy="342.6" r="2.75"/><circle cx="469.0" cy="345.0" r="2.75"/><circle cx="469.6" cy="340.0" r="2.75"/><circle cx="469.7" cy="342.2" r="2.75"/><circle cx="469.8" cy="351.1" r="2.75"/><circle cx="470.0" cy="352.0" r="2.75"/><circle cx="470.3" cy="343.6" r="2.75"/><circle cx="470.8" cy="346.0" r="2.75"/><circle cx="471.0" cy="343.9" r="2.75"/><circle cx="471.5" cy="350.1" r="2.75"/><circle cx="472.0" cy="342.0" r="2.75"/><circle cx="472.0" cy="342.4" r="2.75"/><circle cx="472.2" cy="351.5" r="2.75"/><circle cx="472.6" cy="352.9" r="2.75"/><circle cx="473.0" cy="348.0" r="2.75"/><circle cx="473.1" cy="352.9" r="2.75"/><circle cx="473.2" cy="356.8" r="2.75"/><circle cx="473.4" cy="352.4" r="2.75"/><circle cx="473.4" cy="355.1" r="2.75"/><circle cx="473.5" cy="356.7" r="2.75"/><circle cx="473.9" cy="359.6" r="2.75"/><circle cx="474.0" cy="352.0" r="2.75"/><circle cx="474.0" cy="361.0" r="2.75"/><circle cx="474.1" cy="361.2" r="2.75"/><circle cx="474.4" cy="360.0" r="2.75"/><circle cx="474.4" cy="360.4" r="2.75"/><circle cx="474.9" cy="360.1" r="2.75"/><circle cx="474.9" cy="361.1" r="2.75"/><circle cx="475.0" cy="356.0" r="2.75"/><circle cx="475.2" cy="362.7" r="2.75"/><circle cx="476.3" cy="364.5" r="2.75"/><circle cx="476.5" cy="365.4" r="2.75"/><circle cx="476.7" cy="366.0" r="2.75"/><circle cx="476.9" cy="367.4" r="2.75"/><circle cx="477.0" cy="366.0" r="2.75"/><circle cx="477.2" cy="368.1" r="2.75"/><circle cx="477.8" cy="370.3" r="2.75"/><circle cx="478.0" cy="370.0" r="2.75"/><circle cx="478.0" cy="371.0" r="2.75"/><circle cx="478.1" cy="371.1" r="2.75"/><circle cx="478.9" cy="373.1" r="2.75"/><circle cx="479.0" cy="374.0" r="2.75"/><circle cx="479.5" cy="373.8" r="2.75"/><circle cx="479.5" cy="375.3" r="2.75"/><circle cx="479.9" cy="375.5" r="2.75"/><circle cx="480.0" cy="376.0" r="2.75"/><circle cx="480.4" cy="376.9" r="2.75"/><circle cx="480.5" cy="375.1" r="2.75"/><circle cx="481.0" cy="379.0" r="2.75"/><circle cx="481.2" cy="377.7" r="2.75"/><circle cx="481.5" cy="379.5" r="2.75"/><circle cx="483.0" cy="380.0" r="2.75"/><circle cx="483.2" cy="380.8" r="2.75"/><circle cx="483.4" cy="378.9" r="2.75"/><circle cx="483.4" cy="380.3" r="2.75"/><circle cx="483.5" cy="382.7" r="2.75"/><circle cx="484.0" cy="388.0" r="2.75"/><circle cx="484.7" cy="383.8" r="2.75"/><circle cx="485.0" cy="381.0" r="2.75"/><circle cx="485.0" cy="385.0" r="2.75"/><circle cx="485.2" cy="385.5" r="2.75"/><circle cx="485.4" cy="384.0" r="2.75"/><circle cx="485.6" cy="379.1" r="2.75"/><circle cx="486.0" cy="379.0" r="2.75"/><circle cx="486.0" cy="379.9" r="2.75"/><circle cx="486.0" cy="381.8" r="2.75"/><circle cx="486.5" cy="385.0" r="2.75"/><circle cx="486.6" cy="385.1" r="2.75"/><circle cx="487.0" cy="385.0" r="2.75"/><circle cx="488.6" cy="386.9" r="2.75"/><circle cx="489.0" cy="386.0" r="2.75"/><circle cx="489.1" cy="386.3" r="2.75"/><circle cx="489.5" cy="388.5" r="2.75"/><circle cx="489.7" cy="388.7" r="2.75"/><circle cx="490.0" cy="378.0" r="2.75"/><circle cx="490.0" cy="392.0" r="2.75"/><circle cx="490.0" cy="392.1" r="2.75"/><circle cx="490.3" cy="392.6" r="2.75"/><circle cx="490.9" cy="392.4" r="2.75"/><circle cx="491.0" cy="386.0" r="2.75"/><circle cx="491.7" cy="394.4" r="2.75"/><circle cx="491.8" cy="395.9" r="2.75"/><circle cx="492.4" cy="391.6" r="2.75"/><circle cx="493.0" cy="397.6" r="2.75"/><circle cx="493.0" cy="398.0" r="2.75"/><circle cx="493.2" cy="397.2" r="2.75"/><circle cx="493.2" cy="399.2" r="2.75"/><circle cx="493.6" cy="386.8" r="2.75"/><circle cx="494.0" cy="388.0" r="2.75"/><circle cx="494.0" cy="399.7" r="2.75"/><circle cx="494.2" cy="406.0" r="2.75"/><circle cx="494.6" cy="404.6" r="2.75"/><circle cx="494.6" cy="409.4" r="2.75"/><circle cx="495.0" cy="402.0" r="2.75"/><circle cx="495.0" cy="402.5" r="2.75"/><circle cx="495.0" cy="410.0" r="2.75"/><circle cx="495.1" cy="402.5" r="2.75"/><circle cx="495.1" cy="407.1" r="2.75"/><circle cx="495.2" cy="406.3" r="2.75"/><circle cx="495.2" cy="410.5" r="2.75"/><circle cx="495.3" cy="402.3" r="2.75"/><circle cx="496.0" cy="411.3" r="2.75"/><circle cx="496.0" cy="412.0" r="2.75"/><circle cx="496.5" cy="417.9" r="2.75"/><circle cx="496.7" cy="411.0" r="2.75"/><circle cx="496.9" cy="409.4" r="2.75"/><circle cx="497.0" cy="401.8" r="2.75"/><circle cx="497.0" cy="418.0" r="2.75"/><circle cx="497.2" cy="418.0" r="2.75"/><circle cx="497.3" cy="402.5" r="2.75"/><circle cx="497.3" cy="419.2" r="2.75"/><circle cx="497.8" cy="417.5" r="2.75"/><circle cx="498.0" cy="412.0" r="2.75"/><circle cx="498.0" cy="412.9" r="2.75"/><circle cx="498.0" cy="413.0" r="2.75"/><circle cx="498.1" cy="413.9" r="2.75"/><circle cx="498.6" cy="416.4" r="2.75"/><circle cx="499.1" cy="410.1" r="2.75"/><circle cx="499.7" cy="413.8" r="2.75"/><circle cx="500.0" cy="404.0" r="2.75"/><circle cx="500.0" cy="408.0" r="2.75"/><circle cx="500.0" cy="417.2" r="2.75"/><circle cx="500.2" cy="402.4" r="2.75"/><circle cx="501.4" cy="406.0" r="2.75"/><circle cx="501.4" cy="408.9" r="2.75"/><circle cx="501.6" cy="415.1" r="2.75"/><circle cx="501.7" cy="415.2" r="2.75"/><circle cx="502.0" cy="415.0" r="2.75"/><circle cx="502.7" cy="409.0" r="2.75"/><circle cx="503.2" cy="410.8" r="2.75"/><circle cx="503.8" cy="412.7" r="2.75"/><circle cx="504.4" cy="412.6" r="2.75"/><circle cx="505.0" cy="412.4" r="2.75"/><circle cx="505.6" cy="414.4" r="2.75"/><circle cx="505.7" cy="412.0" r="2.75"/><circle cx="505.9" cy="414.2" r="2.75"/><circle cx="506.0" cy="411.0" r="2.75"/><circle cx="506.2" cy="409.6" r="2.75"/><circle cx="506.2" cy="411.4" r="2.75"/><circle cx="506.3" cy="411.5" r="2.75"/><circle cx="506.4" cy="411.5" r="2.75"/><circle cx="506.4" cy="417.0" r="2.75"/><circle cx="506.6" cy="415.3" r="2.75"/><circle cx="506.8" cy="419.9" r="2.75"/><circle cx="507.0" cy="419.0" r="2.75"/><circle cx="507.4" cy="419.2" r="2.75"/><circle cx="507.5" cy="407.5" r="2.75"/><circle cx="508.0" cy="409.6" r="2.75"/><circle cx="509.2" cy="404.8" r="2.75"/><circle cx="509.2" cy="406.0" r="2.75"/><circle cx="510.0" cy="400.0" r="2.75"/><circle cx="510.4" cy="400.0" r="2.75"/><circle cx="510.5" cy="399.0" r="2.75"/><circle cx="511.0" cy="390.4" r="2.75"/><circle cx="511.0" cy="391.0" r="2.75"/><circle cx="511.4" cy="397.9" r="2.75"/><circle cx="511.5" cy="398.6" r="2.75"/><circle cx="512.0" cy="403.2" r="2.75"/><circle cx="512.2" cy="397.0" r="2.75"/><circle cx="512.2" cy="401.8" r="2.75"/><circle cx="513.0" cy="398.0" r="2.75"/><circle cx="514.0" cy="402.4" r="2.75"/><circle cx="514.6" cy="400.1" r="2.75"/><circle cx="514.8" cy="404.5" r="2.75"/><circle cx="515.0" cy="405.0" r="2.75"/><circle cx="515.4" cy="398.7" r="2.75"/><circle cx="515.5" cy="401.0" r="2.75"/><circle cx="515.8" cy="398.2" r="2.75"/><circle cx="515.8" cy="411.4" r="2.75"/><circle cx="516.2" cy="402.7" r="2.75"/><circle cx="516.4" cy="406.0" r="2.75"/><circle cx="517.0" cy="399.0" r="2.75"/><circle cx="518.0" cy="393.0" r="2.75"/><circle cx="518.2" cy="392.8" r="2.75"/><circle cx="518.2" cy="400.5" r="2.75"/><circle cx="518.3" cy="401.6" r="2.75"/><circle cx="518.3" cy="407.8" r="2.75"/><circle cx="518.8" cy="403.6" r="2.75"/><circle cx="519.1" cy="407.9" r="2.75"/><circle cx="519.4" cy="408.4" r="2.75"/><circle cx="520.0" cy="398.8" r="2.75"/><circle cx="520.0" cy="402.0" r="2.75"/><circle cx="520.3" cy="400.3" r="2.75"/><circle cx="520.4" cy="393.4" r="2.75"/><circle cx="521.0" cy="409.0" r="2.75"/><circle cx="521.2" cy="397.2" r="2.75"/><circle cx="521.8" cy="402.4" r="2.75"/><circle cx="521.8" cy="409.6" r="2.75"/><circle cx="522.0" cy="397.3" r="2.75"/><circle cx="522.9" cy="402.2" r="2.75"/><circle cx="523.0" cy="395.2" r="2.75"/><circle cx="523.0" cy="396.0" r="2.75"/><circle cx="524.8" cy="401.2" r="2.75"/><circle cx="525.0" cy="396.6" r="2.75"/><circle cx="526.0" cy="397.6" r="2.75"/><circle cx="528.0" cy="389.0" r="2.75"/><circle cx="528.1" cy="397.9" r="2.75"/><circle cx="528.4" cy="388.6" r="2.75"/><circle cx="530.0" cy="397.0" r="2.75"/><circle cx="530.2" cy="395.2" r="2.75"/><circle cx="530.8" cy="398.8" r="2.75"/><circle cx="531.4" cy="385.0" r="2.75"/><circle cx="532.6" cy="381.4" r="2.75"/><circle cx="532.6" cy="381.6" r="2.75"/><circle cx="532.8" cy="386.1" r="2.75"/><circle cx="533.0" cy="387.0" r="2.75"/><circle cx="535.0" cy="388.0" r="2.75"/><circle cx="537.0" cy="389.0" r="2.75"/><circle cx="538.0" cy="389.2" r="2.75"/><circle cx="538.6" cy="399.4" r="2.75"/><circle cx="539.0" cy="396.0" r="2.75"/><circle cx="539.2" cy="395.8" r="2.75"/><circle cx="540.0" cy="400.0" r="2.75"/><circle cx="540.0" cy="404.0" r="2.75"/><circle cx="541.0" cy="401.2" r="2.75"/><circle cx="541.0" cy="409.0" r="2.75"/><circle cx="541.0" cy="409.6" r="2.75"/><circle cx="541.1" cy="399.6" r="2.75"/><circle cx="541.6" cy="406.0" r="2.75"/><circle cx="541.7" cy="397.3" r="2.75"/><circle cx="541.7" cy="400.2" r="2.75"/><circle cx="541.9" cy="399.8" r="2.75"/><circle cx="543.4" cy="398.8" r="2.75"/><circle cx="545.7" cy="397.2" r="2.75"/><circle cx="546.4" cy="395.8" r="2.75"/><circle cx="546.4" cy="398.5" r="2.75"/><circle cx="546.7" cy="397.2" r="2.75"/><circle cx="547.0" cy="387.6" r="2.75"/><circle cx="547.0" cy="395.0" r="2.75"/><circle cx="547.2" cy="397.3" r="2.75"/><circle cx="547.6" cy="388.0" r="2.75"/><circle cx="547.7" cy="397.0" r="2.75"/><circle cx="547.8" cy="397.4" r="2.75"/><circle cx="548.8" cy="398.2" r="2.75"/><circle cx="548.8" cy="399.5" r="2.75"/><circle cx="549.8" cy="401.0" r="2.75"/><circle cx="550.0" cy="394.4" r="2.75"/><circle cx="550.0" cy="400.0" r="2.75"/><circle cx="550.0" cy="401.9" r="2.75"/><circle cx="550.0" cy="402.4" r="2.75"/><circle cx="550.0" cy="403.0" r="2.75"/><circle cx="550.2" cy="396.6" r="2.75"/><circle cx="550.8" cy="396.6" r="2.75"/><circle cx="550.9" cy="399.0" r="2.75"/><circle cx="551.3" cy="399.3" r="2.75"/><circle cx="551.7" cy="402.2" r="2.75"/><circle cx="551.8" cy="394.0" r="2.75"/><circle cx="552.0" cy="397.5" r="2.75"/><circle cx="552.4" cy="400.6" r="2.75"/><circle cx="553.0" cy="395.0" r="2.75"/><circle cx="553.2" cy="396.5" r="2.75"/><circle cx="553.5" cy="400.1" r="2.75"/><circle cx="553.6" cy="395.8" r="2.75"/><circle cx="553.8" cy="396.3" r="2.75"/><circle cx="553.9" cy="396.3" r="2.75"/><circle cx="554.6" cy="401.3" r="2.75"/><circle cx="554.8" cy="399.5" r="2.75"/><circle cx="555.4" cy="397.1" r="2.75"/><circle cx="555.4" cy="398.8" r="2.75"/><circle cx="555.4" cy="399.5" r="2.75"/><circle cx="555.7" cy="397.5" r="2.75"/><circle cx="556.0" cy="398.0" r="2.75"/><circle cx="556.0" cy="401.6" r="2.75"/><circle cx="556.2" cy="400.7" r="2.75"/><circle cx="556.6" cy="399.7" r="2.75"/><circle cx="556.8" cy="398.7" r="2.75"/><circle cx="557.2" cy="401.8" r="2.75"/><circle cx="557.3" cy="400.8" r="2.75"/><circle cx="557.8" cy="398.2" r="2.75"/><circle cx="558.8" cy="398.1" r="2.75"/><circle cx="559.1" cy="399.1" r="2.75"/><circle cx="559.6" cy="398.2" r="2.75"/><circle cx="560.6" cy="398.8" r="2.75"/><circle cx="560.8" cy="398.8" r="2.75"/><circle cx="561.6" cy="399.9" r="2.75"/><circle cx="561.7" cy="398.2" r="2.75"/><circle cx="562.0" cy="398.0" r="2.75"/><circle cx="562.9" cy="399.3" r="2.75"/><circle cx="563.2" cy="397.6" r="2.75"/><circle cx="563.6" cy="399.0" r="2.75"/><circle cx="563.7" cy="399.3" r="2.75"/><circle cx="564.2" cy="398.7" r="2.75"/><circle cx="565.1" cy="400.3" r="2.75"/><circle cx="565.6" cy="400.0" r="2.75"/><circle cx="565.7" cy="398.7" r="2.75"/><circle cx="566.0" cy="399.0" r="2.75"/><circle cx="566.4" cy="402.5" r="2.75"/><circle cx="566.8" cy="403.0" r="2.75"/><circle cx="566.9" cy="402.6" r="2.75"/><circle cx="567.0" cy="403.0" r="2.75"/><circle cx="567.9" cy="399.6" r="2.75"/><circle cx="568.0" cy="398.8" r="2.75"/><circle cx="568.2" cy="398.6" r="2.75"/><circle cx="568.3" cy="400.7" r="2.75"/><circle cx="569.7" cy="398.1" r="2.75"/><circle cx="570.4" cy="398.2" r="2.75"/><circle cx="571.4" cy="399.2" r="2.75"/><circle cx="572.0" cy="398.0" r="2.75"/><circle cx="572.0" cy="399.1" r="2.75"/><circle cx="572.2" cy="397.0" r="2.75"/><circle cx="573.5" cy="397.2" r="2.75"/><circle cx="573.9" cy="396.6" r="2.75"/><circle cx="574.0" cy="397.0" r="2.75"/><circle cx="574.0" cy="399.0" r="2.75"/><circle cx="574.6" cy="397.5" r="2.75"/><circle cx="574.9" cy="398.4" r="2.75"/><circle cx="575.5" cy="397.5" r="2.75"/><circle cx="575.8" cy="398.0" r="2.75"/><circle cx="576.0" cy="396.0" r="2.75"/><circle cx="576.1" cy="396.4" r="2.75"/><circle cx="576.4" cy="395.8" r="2.75"/><circle cx="576.4" cy="397.8" r="2.75"/><circle cx="577.2" cy="397.1" r="2.75"/><circle cx="577.7" cy="397.3" r="2.75"/><circle cx="577.8" cy="397.1" r="2.75"/><circle cx="578.6" cy="400.0" r="2.75"/><circle cx="578.8" cy="398.2" r="2.75"/><circle cx="580.0" cy="401.0" r="2.75"/><circle cx="580.6" cy="403.6" r="2.75"/><circle cx="580.7" cy="398.9" r="2.75"/><circle cx="580.9" cy="400.6" r="2.75"/><circle cx="581.0" cy="403.0" r="2.75"/><circle cx="581.1" cy="400.6" r="2.75"/><circle cx="581.2" cy="400.0" r="2.75"/><circle cx="581.7" cy="399.2" r="2.75"/><circle cx="582.4" cy="401.5" r="2.75"/><circle cx="583.1" cy="398.9" r="2.75"/><circle cx="583.3" cy="399.9" r="2.75"/><circle cx="583.6" cy="399.4" r="2.75"/><circle cx="583.7" cy="399.1" r="2.75"/><circle cx="584.0" cy="398.0" r="2.75"/><circle cx="584.5" cy="398.5" r="2.75"/><circle cx="585.5" cy="407.7" r="2.75"/><circle cx="586.0" cy="398.2" r="2.75"/><circle cx="586.0" cy="398.3" r="2.75"/><circle cx="586.0" cy="398.4" r="2.75"/><circle cx="586.0" cy="407.0" r="2.75"/><circle cx="586.0" cy="407.8" r="2.75"/><circle cx="587.5" cy="408.6" r="2.75"/><circle cx="587.8" cy="407.0" r="2.75"/><circle cx="588.4" cy="408.4" r="2.75"/><circle cx="589.0" cy="409.0" r="2.75"/><circle cx="589.4" cy="408.5" r="2.75"/><circle cx="589.4" cy="409.6" r="2.75"/><circle cx="590.6" cy="408.7" r="2.75"/><circle cx="590.9" cy="408.7" r="2.75"/><circle cx="591.0" cy="409.5" r="2.75"/><circle cx="591.4" cy="409.0" r="2.75"/><circle cx="592.9" cy="408.8" r="2.75"/><circle cx="593.0" cy="409.0" r="2.75"/><circle cx="593.5" cy="409.2" r="2.75"/><circle cx="594.0" cy="410.7" r="2.75"/><circle cx="594.4" cy="409.0" r="2.75"/><circle cx="594.8" cy="406.8" r="2.75"/><circle cx="595.3" cy="408.0" r="2.75"/><circle cx="595.5" cy="407.7" r="2.75"/><circle cx="595.7" cy="409.9" r="2.75"/><circle cx="596.1" cy="407.6" r="2.75"/><circle cx="596.2" cy="411.4" r="2.75"/><circle cx="596.3" cy="409.0" r="2.75"/><circle cx="596.6" cy="407.9" r="2.75"/><circle cx="596.8" cy="408.1" r="2.75"/><circle cx="597.0" cy="407.0" r="2.75"/><circle cx="597.2" cy="408.4" r="2.75"/><circle cx="597.4" cy="406.0" r="2.75"/><circle cx="597.6" cy="409.9" r="2.75"/><circle cx="597.7" cy="408.6" r="2.75"/><circle cx="597.9" cy="412.2" r="2.75"/><circle cx="598.0" cy="410.2" r="2.75"/><circle cx="598.0" cy="411.0" r="2.75"/><circle cx="598.5" cy="407.4" r="2.75"/><circle cx="598.9" cy="412.7" r="2.75"/><circle cx="599.2" cy="409.6" r="2.75"/><circle cx="599.2" cy="412.5" r="2.75"/><circle cx="599.5" cy="410.1" r="2.75"/><circle cx="599.8" cy="409.2" r="2.75"/><circle cx="599.9" cy="412.5" r="2.75"/><circle cx="599.9" cy="412.8" r="2.75"/><circle cx="600.0" cy="408.0" r="2.75"/><circle cx="600.2" cy="411.7" r="2.75"/><circle cx="600.5" cy="409.3" r="2.75"/><circle cx="600.7" cy="411.8" r="2.75"/><circle cx="601.0" cy="413.0" r="2.75"/><circle cx="601.0" cy="413.2" r="2.75"/><circle cx="601.1" cy="414.1" r="2.75"/><circle cx="601.4" cy="413.1" r="2.75"/><circle cx="601.5" cy="412.0" r="2.75"/><circle cx="601.6" cy="414.4" r="2.75"/><circle cx="601.6" cy="414.7" r="2.75"/><circle cx="601.9" cy="413.8" r="2.75"/><circle cx="601.9" cy="415.0" r="2.75"/><circle cx="602.0" cy="414.0" r="2.75"/><circle cx="602.6" cy="416.9" r="2.75"/><circle cx="602.8" cy="417.4" r="2.75"/><circle cx="602.8" cy="417.8" r="2.75"/><circle cx="602.9" cy="416.4" r="2.75"/><circle cx="603.0" cy="419.0" r="2.75"/><circle cx="603.3" cy="419.4" r="2.75"/><circle cx="603.5" cy="417.0" r="2.75"/><circle cx="603.6" cy="421.3" r="2.75"/><circle cx="603.9" cy="418.7" r="2.75"/><circle cx="603.9" cy="419.7" r="2.75"/><circle cx="603.9" cy="421.9" r="2.75"/><circle cx="604.0" cy="419.0" r="2.75"/><circle cx="604.0" cy="421.6" r="2.75"/><circle cx="604.2" cy="424.6" r="2.75"/><circle cx="604.4" cy="417.9" r="2.75"/><circle cx="604.4" cy="421.7" r="2.75"/><circle cx="604.4" cy="424.0" r="2.75"/><circle cx="604.7" cy="419.4" r="2.75"/><circle cx="604.9" cy="423.4" r="2.75"/><circle cx="604.9" cy="425.0" r="2.75"/><circle cx="605.0" cy="424.0" r="2.75"/><circle cx="605.1" cy="425.1" r="2.75"/><circle cx="605.2" cy="426.4" r="2.75"/><circle cx="605.4" cy="424.0" r="2.75"/><circle cx="605.5" cy="425.9" r="2.75"/><circle cx="605.5" cy="427.1" r="2.75"/><circle cx="605.7" cy="428.1" r="2.75"/><circle cx="605.7" cy="430.1" r="2.75"/><circle cx="606.0" cy="429.0" r="2.75"/><circle cx="606.1" cy="425.2" r="2.75"/><circle cx="606.4" cy="431.2" r="2.75"/><circle cx="606.5" cy="430.3" r="2.75"/><circle cx="606.8" cy="431.1" r="2.75"/><circle cx="606.9" cy="432.1" r="2.75"/><circle cx="607.0" cy="433.0" r="2.75"/><circle cx="607.2" cy="427.1" r="2.75"/><circle cx="607.2" cy="430.2" r="2.75"/><circle cx="607.4" cy="434.3" r="2.75"/><circle cx="607.5" cy="430.2" r="2.75"/><circle cx="607.7" cy="427.3" r="2.75"/><circle cx="608.0" cy="430.0" r="2.75"/><circle cx="608.1" cy="430.7" r="2.75"/><circle cx="608.5" cy="432.4" r="2.75"/><circle cx="608.8" cy="427.5" r="2.75"/><circle cx="608.8" cy="433.6" r="2.75"/><circle cx="609.0" cy="428.0" r="2.75"/><circle cx="609.3" cy="428.4" r="2.75"/><circle cx="609.7" cy="431.3" r="2.75"/><circle cx="609.8" cy="431.3" r="2.75"/><circle cx="610.0" cy="432.4" r="2.75"/><circle cx="610.7" cy="428.6" r="2.75"/><circle cx="610.9" cy="428.3" r="2.75"/><circle cx="611.1" cy="430.3" r="2.75"/><circle cx="612.7" cy="430.5" r="2.75"/><circle cx="613.2" cy="428.0" r="2.75"/><circle cx="613.9" cy="428.1" r="2.75"/><circle cx="614.0" cy="428.0" r="2.75"/><circle cx="614.2" cy="427.8" r="2.75"/><circle cx="614.7" cy="426.8" r="2.75"/><circle cx="615.0" cy="427.0" r="2.75"/><circle cx="615.3" cy="427.2" r="2.75"/><circle cx="615.7" cy="428.1" r="2.75"/><circle cx="615.9" cy="428.1" r="2.75"/><circle cx="616.6" cy="427.4" r="2.75"/><circle cx="616.9" cy="428.0" r="2.75"/><circle cx="617.6" cy="428.4" r="2.75"/><circle cx="618.0" cy="429.0" r="2.75"/><circle cx="618.5" cy="428.0" r="2.75"/><circle cx="618.7" cy="427.5" r="2.75"/><circle cx="619.0" cy="428.0" r="2.75"/><circle cx="619.4" cy="427.3" r="2.75"/><circle cx="620.0" cy="431.0" r="2.75"/><circle cx="620.0" cy="431.3" r="2.75"/><circle cx="620.4" cy="430.3" r="2.75"/><circle cx="620.9" cy="429.2" r="2.75"/><circle cx="621.8" cy="431.0" r="2.75"/><circle cx="621.9" cy="428.2" r="2.75"/><circle cx="622.0" cy="427.8" r="2.75"/><circle cx="623.7" cy="428.5" r="2.75"/><circle cx="623.9" cy="432.3" r="2.75"/><circle cx="624.0" cy="429.0" r="2.75"/><circle cx="624.0" cy="432.4" r="2.75"/><circle cx="624.5" cy="433.3" r="2.75"/><circle cx="626.4" cy="431.0" r="2.75"/><circle cx="627.0" cy="431.6" r="2.75"/><circle cx="627.4" cy="421.0" r="2.75"/><circle cx="627.5" cy="432.5" r="2.75"/><circle cx="628.0" cy="410.4" r="2.75"/><circle cx="628.4" cy="410.0" r="2.75"/><circle cx="628.6" cy="327.0" r="2.75"/><circle cx="628.6" cy="342.0" r="2.75"/><circle cx="629.0" cy="343.0" r="2.75"/><circle cx="629.4" cy="346.0" r="2.75"/><circle cx="630.0" cy="353.0" r="2.75"/><circle cx="630.0" cy="363.6" r="2.75"/><circle cx="630.0" cy="366.0" r="2.75"/><circle cx="631.0" cy="354.0" r="2.75"/><circle cx="631.0" cy="365.0" r="2.75"/><circle cx="631.0" cy="370.0" r="2.75"/><circle cx="631.4" cy="366.0" r="2.75"/><circle cx="631.6" cy="362.8" r="2.75"/><circle cx="632.0" cy="362.5" r="2.75"/><circle cx="632.1" cy="356.2" r="2.75"/><circle cx="633.0" cy="358.0" r="2.75"/><circle cx="633.4" cy="333.4" r="2.75"/><circle cx="634.0" cy="355.0" r="2.75"/><circle cx="634.0" cy="359.5" r="2.75"/><circle cx="634.0" cy="361.0" r="2.75"/><circle cx="634.5" cy="357.9" r="2.75"/><circle cx="634.7" cy="356.4" r="2.75"/><circle cx="635.2" cy="358.9" r="2.75"/><circle cx="635.4" cy="359.8" r="2.75"/><circle cx="636.0" cy="346.0" r="2.75"/><circle cx="636.0" cy="355.0" r="2.75"/><circle cx="636.0" cy="355.7" r="2.75"/><circle cx="636.0" cy="360.0" r="2.75"/><circle cx="637.0" cy="346.4" r="2.75"/><circle cx="637.0" cy="359.0" r="2.75"/><circle cx="637.2" cy="357.4" r="2.75"/><circle cx="638.0" cy="343.0" r="2.75"/><circle cx="638.0" cy="356.6" r="2.75"/><circle cx="638.0" cy="357.0" r="2.75"/><circle cx="638.1" cy="355.5" r="2.75"/><circle cx="638.5" cy="341.1" r="2.75"/><circle cx="638.6" cy="335.4" r="2.75"/><circle cx="638.6" cy="345.6" r="2.75"/><circle cx="639.0" cy="355.6" r="2.75"/><circle cx="639.4" cy="339.6" r="2.75"/><circle cx="639.7" cy="363.6" r="2.75"/><circle cx="640.0" cy="340.0" r="2.75"/><circle cx="640.0" cy="355.0" r="2.75"/><circle cx="640.0" cy="364.0" r="2.75"/><circle cx="640.0" cy="365.0" r="2.75"/><circle cx="640.4" cy="364.9" r="2.75"/><circle cx="640.5" cy="367.9" r="2.75"/><circle cx="640.6" cy="365.7" r="2.75"/><circle cx="640.6" cy="368.1" r="2.75"/><circle cx="640.7" cy="364.4" r="2.75"/><circle cx="640.9" cy="370.1" r="2.75"/><circle cx="641.0" cy="369.0" r="2.75"/><circle cx="641.3" cy="367.8" r="2.75"/><circle cx="641.3" cy="369.9" r="2.75"/><circle cx="641.5" cy="379.7" r="2.75"/><circle cx="641.6" cy="372.1" r="2.75"/><circle cx="641.8" cy="370.0" r="2.75"/><circle cx="641.8" cy="373.4" r="2.75"/><circle cx="641.8" cy="376.2" r="2.75"/><circle cx="641.8" cy="376.7" r="2.75"/><circle cx="641.9" cy="373.4" r="2.75"/><circle cx="641.9" cy="379.7" r="2.75"/><circle cx="642.0" cy="370.3" r="2.75"/><circle cx="642.0" cy="373.0" r="2.75"/><circle cx="642.0" cy="373.5" r="2.75"/><circle cx="642.0" cy="374.0" r="2.75"/><circle cx="642.0" cy="379.0" r="2.75"/><circle cx="642.1" cy="382.9" r="2.75"/><circle cx="642.3" cy="381.7" r="2.75"/><circle cx="642.4" cy="377.7" r="2.75"/><circle cx="642.4" cy="379.0" r="2.75"/><circle cx="642.4" cy="379.1" r="2.75"/><circle cx="642.4" cy="379.3" r="2.75"/><circle cx="642.4" cy="383.2" r="2.75"/><circle cx="642.5" cy="374.3" r="2.75"/><circle cx="642.5" cy="384.4" r="2.75"/><circle cx="642.6" cy="375.6" r="2.75"/><circle cx="642.6" cy="379.8" r="2.75"/><circle cx="642.6" cy="385.0" r="2.75"/><circle cx="642.6" cy="385.9" r="2.75"/><circle cx="642.8" cy="381.7" r="2.75"/><circle cx="643.0" cy="385.9" r="2.75"/><circle cx="643.0" cy="387.0" r="2.75"/><circle cx="643.0" cy="387.2" r="2.75"/><circle cx="643.1" cy="386.2" r="2.75"/><circle cx="643.7" cy="387.0" r="2.75"/><circle cx="643.9" cy="389.3" r="2.75"/><circle cx="644.0" cy="390.0" r="2.75"/><circle cx="644.1" cy="388.7" r="2.75"/><circle cx="645.0" cy="389.0" r="2.75"/><circle cx="645.3" cy="389.6" r="2.75"/><circle cx="645.3" cy="391.4" r="2.75"/><circle cx="645.4" cy="388.2" r="2.75"/><circle cx="645.8" cy="390.8" r="2.75"/><circle cx="646.3" cy="391.7" r="2.75"/><circle cx="646.8" cy="392.6" r="2.75"/><circle cx="647.0" cy="393.0" r="2.75"/><circle cx="647.0" cy="403.6" r="2.75"/><circle cx="647.1" cy="392.6" r="2.75"/><circle cx="647.2" cy="401.9" r="2.75"/><circle cx="647.3" cy="399.1" r="2.75"/><circle cx="647.4" cy="392.9" r="2.75"/><circle cx="647.4" cy="402.2" r="2.75"/><circle cx="647.4" cy="403.0" r="2.75"/><circle cx="647.5" cy="393.4" r="2.75"/><circle cx="647.7" cy="395.9" r="2.75"/><circle cx="647.7" cy="397.7" r="2.75"/><circle cx="647.8" cy="393.9" r="2.75"/><circle cx="647.8" cy="404.3" r="2.75"/><circle cx="648.0" cy="397.0" r="2.75"/><circle cx="648.4" cy="401.7" r="2.75"/><circle cx="648.7" cy="393.3" r="2.75"/><circle cx="650.4" cy="400.4" r="2.75"/><circle cx="650.8" cy="393.8" r="2.75"/><circle cx="650.8" cy="397.2" r="2.75"/><circle cx="651.0" cy="395.0" r="2.75"/><circle cx="651.3" cy="399.0" r="2.75"/><circle cx="651.5" cy="395.5" r="2.75"/><circle cx="652.0" cy="396.1" r="2.75"/><circle cx="652.5" cy="396.5" r="2.75"/><circle cx="653.0" cy="398.0" r="2.75"/><circle cx="653.1" cy="398.5" r="2.75"/><circle cx="653.2" cy="398.9" r="2.75"/><circle cx="653.9" cy="396.4" r="2.75"/><circle cx="654.0" cy="397.0" r="2.75"/><circle cx="654.0" cy="402.0" r="2.75"/><circle cx="654.2" cy="398.1" r="2.75"/><circle cx="654.8" cy="397.9" r="2.75"/><circle cx="655.0" cy="405.0" r="2.75"/><circle cx="655.2" cy="396.8" r="2.75"/><circle cx="655.2" cy="397.5" r="2.75"/><circle cx="655.2" cy="399.9" r="2.75"/><circle cx="655.5" cy="404.5" r="2.75"/><circle cx="655.7" cy="402.2" r="2.75"/><circle cx="655.7" cy="405.0" r="2.75"/><circle cx="656.0" cy="404.0" r="2.75"/><circle cx="656.1" cy="401.7" r="2.75"/><circle cx="656.6" cy="401.6" r="2.75"/><circle cx="656.8" cy="398.8" r="2.75"/><circle cx="656.9" cy="399.9" r="2.75"/><circle cx="657.0" cy="399.0" r="2.75"/><circle cx="657.0" cy="402.0" r="2.75"/><circle cx="657.1" cy="398.7" r="2.75"/><circle cx="657.2" cy="398.2" r="2.75"/><circle cx="657.3" cy="398.5" r="2.75"/><circle cx="658.6" cy="348.3" r="2.75"/><circle cx="658.6" cy="349.0" r="2.75"/><circle cx="658.7" cy="348.8" r="2.75"/><circle cx="658.9" cy="348.0" r="2.75"/><circle cx="658.9" cy="348.5" r="2.75"/><circle cx="658.9" cy="349.4" r="2.75"/><circle cx="659.0" cy="346.3" r="2.75"/><circle cx="659.0" cy="348.2" r="2.75"/><circle cx="659.0" cy="349.0" r="2.75"/><circle cx="659.0" cy="382.0" r="2.75"/><circle cx="659.3" cy="352.1" r="2.75"/><circle cx="659.3" cy="354.1" r="2.75"/><circle cx="659.4" cy="344.0" r="2.75"/><circle cx="659.4" cy="344.4" r="2.75"/><circle cx="659.4" cy="353.0" r="2.75"/><circle cx="659.4" cy="353.8" r="2.75"/><circle cx="659.5" cy="343.9" r="2.75"/><circle cx="659.5" cy="350.0" r="2.75"/><circle cx="659.5" cy="351.8" r="2.75"/><circle cx="659.6" cy="352.8" r="2.75"/><circle cx="659.7" cy="343.3" r="2.75"/><circle cx="659.7" cy="354.1" r="2.75"/><circle cx="659.7" cy="355.2" r="2.75"/><circle cx="659.8" cy="355.5" r="2.75"/><circle cx="659.8" cy="363.1" r="2.75"/><circle cx="659.9" cy="355.4" r="2.75"/><circle cx="660.0" cy="354.0" r="2.75"/><circle cx="660.0" cy="362.4" r="2.75"/><circle cx="660.4" cy="361.4" r="2.75"/><circle cx="660.6" cy="358.0" r="2.75"/><circle cx="660.7" cy="360.1" r="2.75"/><circle cx="661.0" cy="357.7" r="2.75"/><circle cx="661.0" cy="359.0" r="2.75"/><circle cx="661.1" cy="358.2" r="2.75"/><circle cx="661.1" cy="358.3" r="2.75"/><circle cx="661.2" cy="360.3" r="2.75"/><circle cx="661.2" cy="362.1" r="2.75"/><circle cx="661.4" cy="358.6" r="2.75"/><circle cx="662.0" cy="363.0" r="2.75"/><circle cx="662.1" cy="361.6" r="2.75"/><circle cx="662.2" cy="361.8" r="2.75"/><circle cx="662.2" cy="362.7" r="2.75"/><circle cx="662.2" cy="364.2" r="2.75"/><circle cx="662.3" cy="363.7" r="2.75"/><circle cx="662.3" cy="365.0" r="2.75"/><circle cx="662.6" cy="364.0" r="2.75"/><circle cx="662.6" cy="364.9" r="2.75"/><circle cx="662.7" cy="364.3" r="2.75"/><circle cx="662.8" cy="367.6" r="2.75"/><circle cx="663.0" cy="367.6" r="2.75"/><circle cx="663.0" cy="368.0" r="2.75"/><circle cx="663.1" cy="368.6" r="2.75"/><circle cx="663.2" cy="374.4" r="2.75"/><circle cx="663.3" cy="372.4" r="2.75"/><circle cx="663.3" cy="375.1" r="2.75"/><circle cx="663.4" cy="371.4" r="2.75"/><circle cx="663.5" cy="367.0" r="2.75"/><circle cx="663.5" cy="377.1" r="2.75"/><circle cx="663.6" cy="369.0" r="2.75"/><circle cx="663.6" cy="377.0" r="2.75"/><circle cx="663.7" cy="369.0" r="2.75"/><circle cx="663.7" cy="375.9" r="2.75"/><circle cx="663.8" cy="368.2" r="2.75"/><circle cx="663.8" cy="369.8" r="2.75"/><circle cx="663.9" cy="373.2" r="2.75"/><circle cx="663.9" cy="373.9" r="2.75"/><circle cx="663.9" cy="378.1" r="2.75"/><circle cx="663.9" cy="379.3" r="2.75"/><circle cx="664.0" cy="377.0" r="2.75"/><circle cx="664.7" cy="379.9" r="2.75"/><circle cx="665.2" cy="383.4" r="2.75"/><circle cx="665.8" cy="384.2" r="2.75"/><circle cx="665.9" cy="383.8" r="2.75"/><circle cx="666.0" cy="383.0" r="2.75"/><circle cx="666.0" cy="384.0" r="2.75"/><circle cx="666.6" cy="385.0" r="2.75"/><circle cx="667.4" cy="386.8" r="2.75"/><circle cx="667.5" cy="385.0" r="2.75"/><circle cx="667.9" cy="386.2" r="2.75"/><circle cx="668.0" cy="386.0" r="2.75"/><circle cx="668.0" cy="387.0" r="2.75"/><circle cx="668.2" cy="386.2" r="2.75"/><circle cx="668.5" cy="389.4" r="2.75"/><circle cx="668.9" cy="383.9" r="2.75"/><circle cx="669.4" cy="389.0" r="2.75"/><circle cx="669.5" cy="385.4" r="2.75"/><circle cx="669.9" cy="390.5" r="2.75"/><circle cx="670.0" cy="388.0" r="2.75"/><circle cx="670.9" cy="392.0" r="2.75"/><circle cx="671.0" cy="384.0" r="2.75"/><circle cx="671.0" cy="390.1" r="2.75"/><circle cx="671.0" cy="391.0" r="2.75"/><circle cx="673.5" cy="392.1" r="2.75"/><circle cx="674.0" cy="392.0" r="2.75"/><circle cx="677.0" cy="375.0" r="2.75"/><circle cx="677.1" cy="376.1" r="2.75"/><circle cx="677.1" cy="377.3" r="2.75"/><circle cx="677.6" cy="378.4" r="2.75"/><circle cx="677.9" cy="379.0" r="2.75"/><circle cx="678.0" cy="379.0" r="2.75"/><circle cx="679.0" cy="382.1" r="2.75"/><circle cx="679.6" cy="383.0" r="2.75"/><circle cx="680.0" cy="383.0" r="2.75"/><circle cx="680.3" cy="384.2" r="2.75"/><circle cx="680.7" cy="384.0" r="2.75"/><circle cx="682.0" cy="385.8" r="2.75"/><circle cx="682.0" cy="387.0" r="2.75"/><circle cx="682.4" cy="388.2" r="2.75"/><circle cx="682.8" cy="393.4" r="2.75"/><circle cx="683.0" cy="393.0" r="2.75"/><circle cx="683.9" cy="388.2" r="2.75"/><circle cx="684.2" cy="392.1" r="2.75"/><circle cx="685.0" cy="390.0" r="2.75"/><circle cx="685.0" cy="393.8" r="2.75"/><circle cx="685.3" cy="389.1" r="2.75"/><circle cx="685.3" cy="392.9" r="2.75"/><circle cx="685.4" cy="390.3" r="2.75"/><circle cx="685.8" cy="395.3" r="2.75"/><circle cx="686.0" cy="396.0" r="2.75"/><circle cx="686.4" cy="394.7" r="2.75"/><circle cx="686.7" cy="391.2" r="2.75"/><circle cx="686.8" cy="390.3" r="2.75"/><circle cx="687.9" cy="392.9" r="2.75"/><circle cx="687.9" cy="397.8" r="2.75"/><circle cx="688.0" cy="392.0" r="2.75"/><circle cx="688.3" cy="391.2" r="2.75"/><circle cx="689.6" cy="396.9" r="2.75"/><circle cx="689.7" cy="392.2" r="2.75"/><circle cx="690.0" cy="391.1" r="2.75"/><circle cx="690.5" cy="392.9" r="2.75"/><circle cx="690.7" cy="399.1" r="2.75"/><circle cx="691.0" cy="398.0" r="2.75"/><circle cx="691.4" cy="397.6" r="2.75"/><circle cx="691.6" cy="392.3" r="2.75"/><circle cx="691.6" cy="396.7" r="2.75"/><circle cx="691.6" cy="398.2" r="2.75"/><circle cx="691.8" cy="395.9" r="2.75"/><circle cx="692.0" cy="392.7" r="2.75"/><circle cx="692.0" cy="393.0" r="2.75"/><circle cx="692.1" cy="399.8" r="2.75"/><circle cx="693.2" cy="395.3" r="2.75"/><circle cx="693.2" cy="401.9" r="2.75"/><circle cx="693.5" cy="395.7" r="2.75"/><circle cx="694.0" cy="402.9" r="2.75"/><circle cx="694.5" cy="398.3" r="2.75"/><circle cx="695.2" cy="404.3" r="2.75"/><circle cx="695.3" cy="395.5" r="2.75"/><circle cx="695.7" cy="398.4" r="2.75"/><circle cx="695.9" cy="405.3" r="2.75"/><circle cx="696.0" cy="398.0" r="2.75"/><circle cx="696.0" cy="399.0" r="2.75"/><circle cx="696.1" cy="398.1" r="2.75"/><circle cx="696.2" cy="397.8" r="2.75"/><circle cx="696.3" cy="397.0" r="2.75"/><circle cx="696.7" cy="400.4" r="2.75"/><circle cx="696.7" cy="406.3" r="2.75"/><circle cx="697.0" cy="406.0" r="2.75"/><circle cx="697.1" cy="399.0" r="2.75"/><circle cx="697.1" cy="404.2" r="2.75"/><circle cx="697.1" cy="405.5" r="2.75"/><circle cx="697.6" cy="407.3" r="2.75"/><circle cx="697.8" cy="405.2" r="2.75"/><circle cx="697.9" cy="401.2" r="2.75"/><circle cx="697.9" cy="401.4" r="2.75"/><circle cx="698.0" cy="401.0" r="2.75"/><circle cx="698.1" cy="405.6" r="2.75"/><circle cx="698.1" cy="406.9" r="2.75"/><circle cx="698.7" cy="405.9" r="2.75"/><circle cx="699.3" cy="399.8" r="2.75"/><circle cx="699.6" cy="401.8" r="2.75"/><circle cx="699.9" cy="399.3" r="2.75"/><circle cx="699.9" cy="403.3" r="2.75"/><circle cx="700.0" cy="403.0" r="2.75"/><circle cx="700.2" cy="399.3" r="2.75"/><circle cx="700.3" cy="402.4" r="2.75"/><circle cx="700.5" cy="400.1" r="2.75"/><circle cx="700.9" cy="399.3" r="2.75"/><circle cx="701.2" cy="401.0" r="2.75"/><circle cx="702.0" cy="397.3" r="2.75"/><circle cx="702.0" cy="398.0" r="2.75"/><circle cx="702.3" cy="398.7" r="2.75"/><circle cx="702.5" cy="400.3" r="2.75"/><circle cx="702.8" cy="399.0" r="2.75"/><circle cx="703.0" cy="399.2" r="2.75"/><circle cx="703.6" cy="401.8" r="2.75"/><circle cx="704.0" cy="401.0" r="2.75"/><circle cx="704.0" cy="402.0" r="2.75"/><circle cx="704.1" cy="396.9" r="2.75"/><circle cx="704.4" cy="397.5" r="2.75"/><circle cx="704.9" cy="400.5" r="2.75"/><circle cx="705.3" cy="398.8" r="2.75"/><circle cx="706.6" cy="399.8" r="2.75"/><circle cx="706.7" cy="398.1" r="2.75"/><circle cx="707.3" cy="400.6" r="2.75"/><circle cx="707.7" cy="401.0" r="2.75"/><circle cx="708.0" cy="398.0" r="2.75"/><circle cx="708.1" cy="396.9" r="2.75"/><circle cx="708.1" cy="403.1" r="2.75"/><circle cx="708.2" cy="398.7" r="2.75"/><circle cx="708.3" cy="398.8" r="2.75"/><circle cx="708.7" cy="401.7" r="2.75"/><circle cx="708.9" cy="404.6" r="2.75"/><circle cx="709.0" cy="404.0" r="2.75"/><circle cx="709.4" cy="405.3" r="2.75"/><circle cx="709.5" cy="403.1" r="2.75"/><circle cx="709.6" cy="407.5" r="2.75"/><circle cx="709.7" cy="408.4" r="2.75"/><circle cx="710.2" cy="406.2" r="2.75"/><circle cx="710.3" cy="407.7" r="2.75"/><circle cx="710.7" cy="407.9" r="2.75"/><circle cx="711.0" cy="410.9" r="2.75"/><circle cx="711.5" cy="411.4" r="2.75"/><circle cx="712.0" cy="408.0" r="2.75"/><circle cx="712.0" cy="409.2" r="2.75"/><circle cx="712.4" cy="407.1" r="2.75"/><circle cx="712.7" cy="413.7" r="2.75"/><circle cx="712.9" cy="410.9" r="2.75"/><circle cx="713.0" cy="410.8" r="2.75"/><circle cx="713.3" cy="414.9" r="2.75"/><circle cx="713.4" cy="413.0" r="2.75"/><circle cx="714.0" cy="413.0" r="2.75"/><circle cx="714.3" cy="412.1" r="2.75"/><circle cx="714.4" cy="412.4" r="2.75"/><circle cx="714.4" cy="416.9" r="2.75"/><circle cx="715.0" cy="418.4" r="2.75"/><circle cx="715.3" cy="413.6" r="2.75"/><circle cx="715.3" cy="418.1" r="2.75"/><circle cx="715.7" cy="415.4" r="2.75"/><circle cx="715.9" cy="417.5" r="2.75"/><circle cx="716.0" cy="416.0" r="2.75"/><circle cx="716.0" cy="417.1" r="2.75"/><circle cx="716.7" cy="414.0" r="2.75"/><circle cx="716.7" cy="415.1" r="2.75"/><circle cx="716.9" cy="412.2" r="2.75"/><circle cx="717.6" cy="414.3" r="2.75"/><circle cx="717.7" cy="412.6" r="2.75"/><circle cx="717.9" cy="413.7" r="2.75"/><circle cx="718.5" cy="409.8" r="2.75"/><circle cx="718.8" cy="411.0" r="2.75"/><circle cx="719.0" cy="409.2" r="2.75"/><circle cx="719.1" cy="408.7" r="2.75"/><circle cx="719.5" cy="406.8" r="2.75"/><circle cx="719.6" cy="407.1" r="2.75"/><circle cx="719.9" cy="407.5" r="2.75"/><circle cx="720.0" cy="407.0" r="2.75"/><circle cx="720.1" cy="406.6" r="2.75"/><circle cx="722.4" cy="407.6" r="2.75"/><circle cx="722.7" cy="408.6" r="2.75"/><circle cx="722.9" cy="407.4" r="2.75"/><circle cx="723.6" cy="409.3" r="2.75"/><circle cx="724.0" cy="408.0" r="2.75"/><circle cx="724.1" cy="409.0" r="2.75"/><circle cx="724.9" cy="406.2" r="2.75"/><circle cx="725.4" cy="407.6" r="2.75"/><circle cx="725.5" cy="393.1" r="2.75"/><circle cx="725.8" cy="392.7" r="2.75"/><circle cx="725.8" cy="404.4" r="2.75"/><circle cx="726.0" cy="394.0" r="2.75"/><circle cx="726.0" cy="394.5" r="2.75"/><circle cx="726.1" cy="398.8" r="2.75"/><circle cx="726.2" cy="401.3" r="2.75"/><circle cx="726.3" cy="396.0" r="2.75"/><circle cx="726.5" cy="397.5" r="2.75"/><circle cx="726.5" cy="398.5" r="2.75"/><circle cx="726.5" cy="402.0" r="2.75"/><circle cx="726.5" cy="406.0" r="2.75"/><circle cx="726.7" cy="403.7" r="2.75"/><circle cx="726.7" cy="407.8" r="2.75"/><circle cx="726.9" cy="396.2" r="2.75"/><circle cx="726.9" cy="398.2" r="2.75"/><circle cx="726.9" cy="401.2" r="2.75"/><circle cx="726.9" cy="402.7" r="2.75"/><circle cx="726.9" cy="406.3" r="2.75"/><circle cx="727.0" cy="399.2" r="2.75"/><circle cx="727.0" cy="402.0" r="2.75"/><circle cx="727.0" cy="403.9" r="2.75"/><circle cx="727.6" cy="394.8" r="2.75"/><circle cx="727.6" cy="397.6" r="2.75"/><circle cx="727.7" cy="399.2" r="2.75"/><circle cx="728.3" cy="400.6" r="2.75"/><circle cx="728.5" cy="403.6" r="2.75"/><circle cx="728.6" cy="395.3" r="2.75"/><circle cx="728.8" cy="402.3" r="2.75"/><circle cx="729.0" cy="396.0" r="2.75"/><circle cx="729.0" cy="397.0" r="2.75"/><circle cx="729.1" cy="400.9" r="2.75"/><circle cx="729.6" cy="399.4" r="2.75"/><circle cx="729.8" cy="392.3" r="2.75"/><circle cx="729.8" cy="393.1" r="2.75"/><circle cx="730.0" cy="396.3" r="2.75"/><circle cx="730.2" cy="396.6" r="2.75"/><circle cx="730.4" cy="397.9" r="2.75"/><circle cx="730.6" cy="390.6" r="2.75"/><circle cx="730.7" cy="391.2" r="2.75"/><circle cx="730.9" cy="393.1" r="2.75"/><circle cx="731.0" cy="391.0" r="2.75"/><circle cx="731.3" cy="394.6" r="2.75"/><circle cx="731.7" cy="390.3" r="2.75"/><circle cx="731.8" cy="389.5" r="2.75"/><circle cx="732.0" cy="388.8" r="2.75"/><circle cx="732.6" cy="385.1" r="2.75"/><circle cx="732.7" cy="386.7" r="2.75"/><circle cx="732.7" cy="386.9" r="2.75"/><circle cx="732.9" cy="388.0" r="2.75"/><circle cx="733.2" cy="387.7" r="2.75"/><circle cx="733.3" cy="385.7" r="2.75"/><circle cx="733.6" cy="386.6" r="2.75"/><circle cx="733.8" cy="387.1" r="2.75"/><circle cx="734.0" cy="388.4" r="2.75"/><circle cx="734.7" cy="391.0" r="2.75"/><circle cx="735.4" cy="390.8" r="2.75"/><circle cx="735.5" cy="391.4" r="2.75"/><circle cx="735.6" cy="390.3" r="2.75"/><circle cx="735.9" cy="390.4" r="2.75"/><circle cx="736.0" cy="391.0" r="2.75"/><circle cx="737.1" cy="392.6" r="2.75"/><circle cx="737.1" cy="392.7" r="2.75"/><circle cx="737.2" cy="393.0" r="2.75"/><circle cx="737.4" cy="395.8" r="2.75"/><circle cx="737.6" cy="394.5" r="2.75"/><circle cx="737.9" cy="398.0" r="2.75"/><circle cx="738.0" cy="395.0" r="2.75"/><circle cx="738.0" cy="397.6" r="2.75"/><circle cx="738.1" cy="394.9" r="2.75"/><circle cx="738.4" cy="395.6" r="2.75"/><circle cx="739.1" cy="397.0" r="2.75"/><circle cx="740.2" cy="397.1" r="2.75"/><circle cx="740.7" cy="397.1" r="2.75"/><circle cx="741.1" cy="397.4" r="2.75"/><circle cx="741.6" cy="398.7" r="2.75"/><circle cx="741.9" cy="397.3" r="2.75"/><circle cx="742.0" cy="398.0" r="2.75"/><circle cx="742.5" cy="397.9" r="2.75"/><circle cx="743.5" cy="399.1" r="2.75"/><circle cx="744.0" cy="399.1" r="2.75"/><circle cx="744.0" cy="400.0" r="2.75"/><circle cx="745.5" cy="401.9" r="2.75"/><circle cx="745.7" cy="400.3" r="2.75"/><circle cx="746.0" cy="400.0" r="2.75"/><circle cx="746.4" cy="399.1" r="2.75"/><circle cx="746.5" cy="402.9" r="2.75"/><circle cx="747.0" cy="401.9" r="2.75"/><circle cx="747.0" cy="402.2" r="2.75"/><circle cx="747.0" cy="410.0" r="2.75"/><circle cx="747.3" cy="405.0" r="2.75"/><circle cx="747.4" cy="404.5" r="2.75"/><circle cx="747.5" cy="410.3" r="2.75"/><circle cx="747.8" cy="402.5" r="2.75"/><circle cx="747.9" cy="408.8" r="2.75"/><circle cx="748.0" cy="403.0" r="2.75"/><circle cx="748.0" cy="406.0" r="2.75"/><circle cx="748.1" cy="405.7" r="2.75"/><circle cx="748.2" cy="411.1" r="2.75"/><circle cx="748.3" cy="402.2" r="2.75"/><circle cx="748.5" cy="407.9" r="2.75"/><circle cx="749.0" cy="407.0" r="2.75"/><circle cx="749.3" cy="407.6" r="2.75"/><circle cx="749.8" cy="410.8" r="2.75"/><circle cx="750.9" cy="407.2" r="2.75"/><circle cx="752.0" cy="409.0" r="2.75"/><circle cx="752.4" cy="407.8" r="2.75"/><circle cx="752.6" cy="407.5" r="2.75"/><circle cx="753.7" cy="406.8" r="2.75"/><circle cx="753.7" cy="407.0" r="2.75"/><circle cx="753.7" cy="408.3" r="2.75"/><circle cx="754.0" cy="408.0" r="2.75"/><circle cx="754.8" cy="407.9" r="2.75"/><circle cx="754.8" cy="410.1" r="2.75"/><circle cx="754.9" cy="406.9" r="2.75"/><circle cx="755.4" cy="409.7" r="2.75"/><circle cx="755.4" cy="410.8" r="2.75"/><circle cx="755.9" cy="413.1" r="2.75"/><circle cx="756.0" cy="411.0" r="2.75"/><circle cx="756.2" cy="410.4" r="2.75"/><circle cx="756.2" cy="411.9" r="2.75"/><circle cx="756.3" cy="412.5" r="2.75"/><circle cx="756.6" cy="412.8" r="2.75"/><circle cx="757.0" cy="414.4" r="2.75"/><circle cx="757.0" cy="415.0" r="2.75"/><circle cx="757.3" cy="415.1" r="2.75"/><circle cx="757.3" cy="415.7" r="2.75"/><circle cx="758.0" cy="419.2" r="2.75"/><circle cx="759.6" cy="403.5" r="2.75"/><circle cx="759.8" cy="402.5" r="2.75"/><circle cx="759.8" cy="403.2" r="2.75"/><circle cx="760.0" cy="402.4" r="2.75"/><circle cx="760.4" cy="392.0" r="2.75"/><circle cx="760.6" cy="398.0" r="2.75"/><circle cx="760.6" cy="401.8" r="2.75"/><circle cx="761.3" cy="402.3" r="2.75"/><circle cx="762.5" cy="402.8" r="2.75"/><circle cx="762.5" cy="404.6" r="2.75"/><circle cx="763.0" cy="404.0" r="2.75"/><circle cx="763.1" cy="404.7" r="2.75"/><circle cx="763.2" cy="404.3" r="2.75"/><circle cx="764.9" cy="405.6" r="2.75"/><circle cx="765.4" cy="405.1" r="2.75"/><circle cx="765.9" cy="406.2" r="2.75"/><circle cx="766.5" cy="405.2" r="2.75"/><circle cx="766.5" cy="405.5" r="2.75"/><circle cx="767.9" cy="407.8" r="2.75"/><circle cx="768.0" cy="407.0" r="2.75"/><circle cx="768.3" cy="408.0" r="2.75"/><circle cx="768.9" cy="407.3" r="2.75"/><circle cx="769.6" cy="410.0" r="2.75"/><circle cx="770.0" cy="409.0" r="2.75"/><circle cx="770.2" cy="408.8" r="2.75"/><circle cx="770.4" cy="408.3" r="2.75"/><circle cx="770.4" cy="410.2" r="2.75"/><circle cx="770.9" cy="409.2" r="2.75"/><circle cx="771.6" cy="409.3" r="2.75"/><circle cx="772.3" cy="409.8" r="2.75"/><circle cx="773.2" cy="409.3" r="2.75"/><circle cx="773.2" cy="410.3" r="2.75"/><circle cx="774.0" cy="412.0" r="2.75"/><circle cx="774.1" cy="412.8" r="2.75"/><circle cx="774.2" cy="411.2" r="2.75"/><circle cx="774.3" cy="412.8" r="2.75"/><circle cx="775.3" cy="411.6" r="2.75"/><circle cx="775.6" cy="412.9" r="2.75"/><circle cx="775.7" cy="412.8" r="2.75"/><circle cx="776.3" cy="415.1" r="2.75"/><circle cx="776.6" cy="414.0" r="2.75"/><circle cx="777.0" cy="415.0" r="2.75"/><circle cx="777.2" cy="415.2" r="2.75"/><circle cx="777.3" cy="414.2" r="2.75"/><circle cx="777.8" cy="416.8" r="2.75"/><circle cx="778.0" cy="418.6" r="2.75"/><circle cx="778.1" cy="416.4" r="2.75"/><circle cx="778.2" cy="420.4" r="2.75"/><circle cx="778.3" cy="417.7" r="2.75"/><circle cx="778.4" cy="424.4" r="2.75"/><circle cx="778.5" cy="418.4" r="2.75"/><circle cx="778.5" cy="425.0" r="2.75"/><circle cx="778.7" cy="423.5" r="2.75"/><circle cx="778.8" cy="419.6" r="2.75"/><circle cx="779.0" cy="419.0" r="2.75"/><circle cx="779.3" cy="426.2" r="2.75"/><circle cx="779.5" cy="420.5" r="2.75"/><circle cx="779.5" cy="437.5" r="2.75"/><circle cx="779.7" cy="435.7" r="2.75"/><circle cx="779.7" cy="435.9" r="2.75"/><circle cx="779.8" cy="429.0" r="2.75"/><circle cx="780.0" cy="433.0" r="2.75"/><circle cx="780.1" cy="427.5" r="2.75"/><circle cx="780.1" cy="429.4" r="2.75"/><circle cx="780.2" cy="415.5" r="2.75"/><circle cx="780.2" cy="419.5" r="2.75"/><circle cx="780.2" cy="435.9" r="2.75"/><circle cx="780.3" cy="436.7" r="2.75"/><circle cx="780.3" cy="437.2" r="2.75"/><circle cx="780.4" cy="428.0" r="2.75"/><circle cx="780.5" cy="424.8" r="2.75"/><circle cx="780.5" cy="432.1" r="2.75"/><circle cx="780.5" cy="434.3" r="2.75"/><circle cx="780.6" cy="432.0" r="2.75"/><circle cx="780.7" cy="416.3" r="2.75"/><circle cx="780.7" cy="418.8" r="2.75"/><circle cx="780.7" cy="423.8" r="2.75"/><circle cx="780.8" cy="423.0" r="2.75"/><circle cx="780.8" cy="428.1" r="2.75"/><circle cx="780.9" cy="424.7" r="2.75"/><circle cx="780.9" cy="435.0" r="2.75"/><circle cx="781.0" cy="425.0" r="2.75"/><circle cx="781.0" cy="435.4" r="2.75"/><circle cx="781.1" cy="422.5" r="2.75"/><circle cx="781.1" cy="432.1" r="2.75"/><circle cx="781.4" cy="423.3" r="2.75"/><circle cx="781.4" cy="425.3" r="2.75"/><circle cx="781.5" cy="430.9" r="2.75"/><circle cx="781.6" cy="431.2" r="2.75"/><circle cx="781.8" cy="433.0" r="2.75"/><circle cx="782.7" cy="426.0" r="2.75"/><circle cx="782.7" cy="432.4" r="2.75"/><circle cx="782.9" cy="430.3" r="2.75"/><circle cx="783.5" cy="432.3" r="2.75"/><circle cx="783.6" cy="428.7" r="2.75"/><circle cx="784.0" cy="428.7" r="2.75"/><circle cx="784.2" cy="428.9" r="2.75"/><circle cx="784.3" cy="426.0" r="2.75"/><circle cx="784.4" cy="429.9" r="2.75"/><circle cx="786.0" cy="428.4" r="2.75"/><circle cx="786.2" cy="426.4" r="2.75"/><circle cx="786.3" cy="425.0" r="2.75"/><circle cx="787.0" cy="428.9" r="2.75"/><circle cx="788.0" cy="426.0" r="2.75"/><circle cx="788.0" cy="428.1" r="2.75"/><circle cx="788.1" cy="427.5" r="2.75"/><circle cx="788.3" cy="425.1" r="2.75"/><circle cx="788.4" cy="424.9" r="2.75"/><circle cx="788.8" cy="429.7" r="2.75"/><circle cx="788.9" cy="426.1" r="2.75"/><circle cx="788.9" cy="427.2" r="2.75"/><circle cx="789.5" cy="426.2" r="2.75"/><circle cx="789.5" cy="428.4" r="2.75"/><circle cx="789.5" cy="430.4" r="2.75"/><circle cx="790.2" cy="428.7" r="2.75"/><circle cx="790.9" cy="429.7" r="2.75"/><circle cx="791.5" cy="428.0" r="2.75"/><circle cx="791.6" cy="431.6" r="2.75"/><circle cx="792.0" cy="428.0" r="2.75"/><circle cx="792.3" cy="429.2" r="2.75"/><circle cx="792.3" cy="429.4" r="2.75"/><circle cx="792.3" cy="432.0" r="2.75"/><circle cx="793.5" cy="430.9" r="2.75"/><circle cx="793.7" cy="428.4" r="2.75"/><circle cx="793.7" cy="431.9" r="2.75"/><circle cx="793.8" cy="431.6" r="2.75"/><circle cx="795.0" cy="427.3" r="2.75"/><circle cx="795.2" cy="430.3" r="2.75"/><circle cx="795.5" cy="428.9" r="2.75"/><circle cx="796.6" cy="430.0" r="2.75"/><circle cx="796.8" cy="427.9" r="2.75"/><circle cx="796.9" cy="429.2" r="2.75"/><circle cx="796.9" cy="429.5" r="2.75"/><circle cx="797.0" cy="427.0" r="2.75"/><circle cx="797.5" cy="429.0" r="2.75"/><circle cx="798.0" cy="430.8" r="2.75"/><circle cx="798.5" cy="430.6" r="2.75"/><circle cx="799.5" cy="431.4" r="2.75"/><circle cx="800.0" cy="430.8" r="2.75"/><circle cx="800.5" cy="431.3" r="2.75"/><circle cx="800.9" cy="432.7" r="2.75"/><circle cx="801.1" cy="431.8" r="2.75"/><circle cx="801.3" cy="431.3" r="2.75"/><circle cx="803.1" cy="433.5" r="2.75"/><circle cx="803.4" cy="433.2" r="2.75"/><circle cx="804.5" cy="432.0" r="2.75"/><circle cx="804.6" cy="434.2" r="2.75"/><circle cx="805.1" cy="432.5" r="2.75"/><circle cx="805.2" cy="432.2" r="2.75"/><circle cx="806.2" cy="433.3" r="2.75"/><circle cx="807.2" cy="434.9" r="2.75"/><circle cx="808.4" cy="433.1" r="2.75"/><circle cx="808.8" cy="435.3" r="2.75"/><circle cx="809.5" cy="435.9" r="2.75"/><circle cx="810.2" cy="432.0" r="2.75"/><circle cx="810.4" cy="433.6" r="2.75"/><circle cx="810.6" cy="433.5" r="2.75"/><circle cx="811.5" cy="433.0" r="2.75"/><circle cx="811.9" cy="433.5" r="2.75"/><circle cx="811.9" cy="434.0" r="2.75"/><circle cx="813.6" cy="435.0" r="2.75"/><circle cx="813.8" cy="434.0" r="2.75"/><circle cx="814.0" cy="435.0" r="2.75"/><circle cx="814.5" cy="434.4" r="2.75"/><circle cx="814.9" cy="435.6" r="2.75"/><circle cx="815.3" cy="434.4" r="2.75"/><circle cx="815.9" cy="436.6" r="2.75"/><circle cx="816.1" cy="438.9" r="2.75"/><circle cx="816.6" cy="439.7" r="2.75"/><circle cx="817.3" cy="438.7" r="2.75"/><circle cx="817.5" cy="439.9" r="2.75"/><circle cx="818.2" cy="440.1" r="2.75"/><circle cx="818.3" cy="440.0" r="2.75"/><circle cx="818.3" cy="442.1" r="2.75"/><circle cx="818.6" cy="440.4" r="2.75"/><circle cx="819.1" cy="441.8" r="2.75"/><circle cx="819.2" cy="444.1" r="2.75"/><circle cx="819.4" cy="443.8" r="2.75"/><circle cx="820.2" cy="442.9" r="2.75"/><circle cx="820.8" cy="443.1" r="2.75"/><circle cx="821.6" cy="445.1" r="2.75"/><circle cx="821.7" cy="445.8" r="2.75"/><circle cx="822.7" cy="444.6" r="2.75"/><circle cx="822.7" cy="446.7" r="2.75"/><circle cx="823.3" cy="444.6" r="2.75"/><circle cx="823.4" cy="445.3" r="2.75"/><circle cx="823.7" cy="444.5" r="2.75"/><circle cx="823.7" cy="444.9" r="2.75"/><circle cx="824.2" cy="442.0" r="2.75"/><circle cx="824.6" cy="441.9" r="2.75"/><circle cx="824.8" cy="442.6" r="2.75"/><circle cx="825.6" cy="438.0" r="2.75"/><circle cx="825.6" cy="438.8" r="2.75"/><circle cx="825.6" cy="440.7" r="2.75"/><circle cx="825.7" cy="439.5" r="2.75"/><circle cx="826.3" cy="437.3" r="2.75"/><circle cx="826.5" cy="439.1" r="2.75"/><circle cx="826.7" cy="439.5" r="2.75"/><circle cx="827.1" cy="440.4" r="2.75"/><circle cx="828.1" cy="441.0" r="2.75"/><circle cx="828.4" cy="440.7" r="2.75"/><circle cx="828.7" cy="441.2" r="2.75"/><circle cx="828.9" cy="443.0" r="2.75"/><circle cx="829.0" cy="441.9" r="2.75"/><circle cx="829.0" cy="442.2" r="2.75"/><circle cx="830.5" cy="442.6" r="2.75"/><circle cx="831.7" cy="443.5" r="2.75"/><circle cx="831.9" cy="443.2" r="2.75"/><circle cx="832.9" cy="441.5" r="2.75"/><circle cx="833.4" cy="444.3" r="2.75"/><circle cx="833.5" cy="444.7" r="2.75"/><circle cx="833.6" cy="438.8" r="2.75"/><circle cx="834.1" cy="443.2" r="2.75"/><circle cx="834.9" cy="439.3" r="2.75"/><circle cx="835.4" cy="438.1" r="2.75"/><circle cx="835.5" cy="438.2" r="2.75"/><circle cx="835.6" cy="437.3" r="2.75"/><circle cx="836.0" cy="438.1" r="2.75"/><circle cx="836.2" cy="436.4" r="2.75"/><circle cx="836.3" cy="436.1" r="2.75"/><circle cx="838.1" cy="436.4" r="2.75"/><circle cx="839.0" cy="434.8" r="2.75"/><circle cx="839.1" cy="435.6" r="2.75"/><circle cx="840.0" cy="436.8" r="2.75"/><circle cx="840.0" cy="438.8" r="2.75"/><circle cx="840.5" cy="436.4" r="2.75"/><circle cx="841.3" cy="438.9" r="2.75"/><circle cx="842.1" cy="438.4" r="2.75"/><circle cx="842.4" cy="439.0" r="2.75"/><circle cx="842.6" cy="440.2" r="2.75"/><circle cx="843.5" cy="440.0" r="2.75"/><circle cx="843.8" cy="439.8" r="2.75"/><circle cx="844.8" cy="440.9" r="2.75"/><circle cx="845.3" cy="442.2" r="2.75"/><circle cx="845.4" cy="441.7" r="2.75"/><circle cx="846.6" cy="441.0" r="2.75"/><circle cx="846.8" cy="440.3" r="2.75"/><circle cx="847.0" cy="441.1" r="2.75"/><circle cx="848.3" cy="442.8" r="2.75"/><circle cx="848.6" cy="440.8" r="2.75"/><circle cx="848.7" cy="441.2" r="2.75"/><circle cx="849.6" cy="444.1" r="2.75"/><circle cx="849.8" cy="443.3" r="2.75"/><circle cx="851.1" cy="444.0" r="2.75"/><circle cx="851.8" cy="445.8" r="2.75"/><circle cx="852.6" cy="448.7" r="2.75"/><circle cx="852.7" cy="447.5" r="2.75"/><circle cx="852.8" cy="449.4" r="2.75"/><circle cx="853.0" cy="445.2" r="2.75"/><circle cx="853.1" cy="445.5" r="2.75"/><circle cx="853.1" cy="447.4" r="2.75"/><circle cx="853.1" cy="448.9" r="2.75"/><circle cx="853.1" cy="452.1" r="2.75"/><circle cx="853.1" cy="452.2" r="2.75"/><circle cx="853.1" cy="455.6" r="2.75"/><circle cx="853.2" cy="450.7" r="2.75"/><circle cx="853.2" cy="451.7" r="2.75"/><circle cx="853.2" cy="454.2" r="2.75"/><circle cx="853.3" cy="455.8" r="2.75"/><circle cx="853.4" cy="442.9" r="2.75"/><circle cx="853.4" cy="450.5" r="2.75"/><circle cx="853.4" cy="456.6" r="2.75"/><circle cx="853.5" cy="456.2" r="2.75"/><circle cx="853.9" cy="456.3" r="2.75"/><circle cx="854.3" cy="456.5" r="2.75"/><circle cx="854.4" cy="453.7" r="2.75"/><circle cx="854.6" cy="452.7" r="2.75"/><circle cx="854.6" cy="452.8" r="2.75"/><circle cx="854.8" cy="452.6" r="2.75"/><circle cx="854.9" cy="448.2" r="2.75"/><circle cx="854.9" cy="452.8" r="2.75"/><circle cx="855.1" cy="452.0" r="2.75"/><circle cx="855.3" cy="450.4" r="2.75"/><circle cx="855.7" cy="447.0" r="2.75"/><circle cx="855.9" cy="448.7" r="2.75"/><circle cx="856.1" cy="446.7" r="2.75"/><circle cx="856.2" cy="445.5" r="2.75"/><circle cx="856.6" cy="444.7" r="2.75"/><circle cx="856.9" cy="445.6" r="2.75"/><circle cx="856.9" cy="446.4" r="2.75"/><circle cx="857.6" cy="445.0" r="2.75"/><circle cx="858.6" cy="444.3" r="2.75"/><circle cx="859.8" cy="444.0" r="2.75"/><circle cx="860.0" cy="444.1" r="2.75"/><circle cx="860.7" cy="444.6" r="2.75"/><circle cx="861.1" cy="445.1" r="2.75"/><circle cx="861.5" cy="445.6" r="2.75"/><circle cx="862.4" cy="446.5" r="2.75"/><circle cx="862.8" cy="445.7" r="2.75"/><circle cx="863.5" cy="449.1" r="2.75"/><circle cx="864.1" cy="447.9" r="2.75"/><circle cx="864.2" cy="447.2" r="2.75"/><circle cx="864.3" cy="447.0" r="2.75"/><circle cx="864.4" cy="450.8" r="2.75"/><circle cx="864.9" cy="449.3" r="2.75"/><circle cx="865.6" cy="450.3" r="2.75"/><circle cx="865.6" cy="452.9" r="2.75"/><circle cx="865.6" cy="454.1" r="2.75"/><circle cx="865.7" cy="452.3" r="2.75"/><circle cx="866.3" cy="452.5" r="2.75"/><circle cx="866.4" cy="451.0" r="2.75"/><circle cx="867.3" cy="451.7" r="2.75"/><circle cx="867.9" cy="449.2" r="2.75"/><circle cx="868.0" cy="449.3" r="2.75"/><circle cx="869.0" cy="450.2" r="2.75"/><circle cx="869.1" cy="447.1" r="2.75"/><circle cx="869.3" cy="447.9" r="2.75"/><circle cx="869.3" cy="449.2" r="2.75"/><circle cx="870.4" cy="446.5" r="2.75"/><circle cx="871.1" cy="447.8" r="2.75"/><circle cx="872.5" cy="447.5" r="2.75"/><circle cx="873.1" cy="446.7" r="2.75"/><circle cx="873.3" cy="448.0" r="2.75"/><circle cx="873.6" cy="448.0" r="2.75"/><circle cx="873.8" cy="446.8" r="2.75"/><circle cx="874.6" cy="447.2" r="2.75"/><circle cx="875.3" cy="446.7" r="2.75"/><circle cx="876.6" cy="447.1" r="2.75"/><circle cx="877.7" cy="447.2" r="2.75"/><circle cx="877.9" cy="447.5" r="2.75"/><circle cx="877.9" cy="448.1" r="2.75"/><circle cx="878.7" cy="448.0" r="2.75"/><circle cx="878.8" cy="449.0" r="2.75"/><circle cx="880.3" cy="448.4" r="2.75"/><circle cx="880.6" cy="449.2" r="2.75"/><circle cx="881.7" cy="446.5" r="2.75"/><circle cx="882.0" cy="446.9" r="2.75"/><circle cx="882.6" cy="449.0" r="2.75"/><circle cx="883.2" cy="447.2" r="2.75"/><circle cx="883.6" cy="446.2" r="2.75"/><circle cx="884.0" cy="446.1" r="2.75"/><circle cx="884.8" cy="444.6" r="2.75"/><circle cx="885.9" cy="445.3" r="2.75"/><circle cx="886.1" cy="443.9" r="2.75"/><circle cx="886.4" cy="444.5" r="2.75"/><circle cx="886.5" cy="445.1" r="2.75"/><circle cx="887.6" cy="443.5" r="2.75"/><circle cx="889.3" cy="444.9" r="2.75"/><circle cx="889.5" cy="443.2" r="2.75"/><circle cx="890.4" cy="442.8" r="2.75"/><circle cx="891.5" cy="443.8" r="2.75"/><circle cx="891.9" cy="446.1" r="2.75"/><circle cx="892.8" cy="443.2" r="2.75"/><circle cx="893.9" cy="442.2" r="2.75"/><circle cx="894.3" cy="441.0" r="2.75"/><circle cx="895.0" cy="438.0" r="2.75"/><circle cx="895.2" cy="437.7" r="2.75"/><circle cx="896.4" cy="439.2" r="2.75"/><circle cx="897.9" cy="441.2" r="2.75"/><circle cx="898.2" cy="440.1" r="2.75"/><circle cx="899.1" cy="440.7" r="2.75"/><circle cx="900.9" cy="442.2" r="2.75"/><circle cx="901.1" cy="443.0" r="2.75"/><circle cx="903.5" cy="442.5" r="2.75"/><circle cx="904.9" cy="443.3" r="2.75"/><circle cx="905.5" cy="442.6" r="2.75"/><circle cx="907.0" cy="444.3" r="2.75"/><circle cx="908.7" cy="443.5" r="2.75"/><circle cx="909.5" cy="444.8" r="2.75"/><circle cx="911.0" cy="442.5" r="2.75"/><circle cx="913.3" cy="444.3" r="2.75"/><circle cx="913.4" cy="443.5" r="2.75"/><circle cx="915.4" cy="443.3" r="2.75"/><circle cx="916.7" cy="443.5" r="2.75"/><circle cx="917.0" cy="444.0" r="2.75"/><circle cx="918.7" cy="441.2" r="2.75"/><circle cx="919.1" cy="442.3" r="2.75"/><circle cx="919.9" cy="444.6" r="2.75"/><circle cx="921.1" cy="443.5" r="2.75"/><circle cx="921.8" cy="446.5" r="2.75"/><circle cx="921.9" cy="446.7" r="2.75"/><circle cx="923.9" cy="447.5" r="2.75"/></g>
<polyline points="120.0,148.0 120.5,148.0 121.3,148.0 122.2,148.1 123.0,148.4 123.8,148.9 124.5,149.6 125.2,150.6 126.0,152.0 126.8,153.9 127.5,156.2 128.2,158.9 129.0,162.0 129.8,165.6 130.5,169.8 131.2,174.1 132.0,178.0 132.8,181.8 133.6,185.6 134.3,188.8 135.0,191.0 135.5,191.8 136.0,191.6 136.5,190.9 137.0,190.0 137.7,188.9 138.5,187.5 139.3,186.0 140.0,185.0 140.5,184.4 141.0,184.2 141.5,184.2 142.0,184.4 142.7,185.1 143.5,186.2 144.3,187.3 145.0,188.0 145.5,188.2 146.0,188.2 146.5,187.8 147.0,187.0 147.7,185.5 148.5,183.5 149.3,181.5 150.0,180.0 150.6,179.1 151.2,178.6 151.8,178.5 152.4,179.0 153.0,180.1 153.7,181.7 154.3,183.7 155.0,186.0 155.7,188.7 156.5,191.9 157.2,195.2 158.0,198.0 158.8,200.4 159.5,202.6 160.2,204.4 161.0,206.0 161.8,206.9 162.5,207.3 163.2,207.8 164.0,209.0 164.8,211.4 165.6,214.7 166.4,217.8 167.0,220.0 167.4,220.5 167.6,219.9 167.7,219.4 168.0,220.0 168.4,222.1 168.9,225.0 169.4,228.4 170.0,232.0 170.6,236.0 171.2,240.4 171.8,244.6 172.4,248.0 173.0,250.4 173.7,252.1 174.3,253.3 175.0,254.0 175.7,254.2 176.4,253.8 177.2,253.0 178.0,252.0 179.0,250.5 180.0,248.6 181.0,246.9 182.0,246.0 182.8,246.2 183.5,247.1 184.2,248.4 185.0,250.0 185.9,252.1 186.9,254.6 187.9,257.1 189.0,259.0 190.2,259.9 191.4,260.2 192.7,260.5 194.0,261.0 195.3,262.1 196.6,263.6 197.9,265.0 199.0,266.0 199.9,266.5 200.6,266.8 201.2,266.7 202.0,266.4 203.0,265.5 204.0,264.0 205.0,262.7 206.0,262.0 206.8,262.0 207.5,262.5 208.2,263.5 209.0,265.0 209.9,267.3 210.9,270.2 212.0,273.3 213.0,276.0 214.0,278.2 215.1,280.2 216.1,281.8 217.0,283.0 217.8,283.7 218.5,283.9 219.2,283.7 220.0,283.0 220.9,281.5 221.9,279.2 223.0,276.9 224.0,275.0 225.0,273.6 226.0,272.6 227.0,271.7 228.0,271.0 229.0,270.4 230.0,269.8 231.0,269.6 232.0,270.0 233.0,270.9 234.0,272.2 235.0,274.1 236.0,277.0 237.0,281.2 238.1,286.6 239.1,292.2 240.0,297.0 240.8,301.2 241.6,305.1 242.3,308.2 243.0,310.0 243.8,310.0 244.5,308.5 245.2,306.5 246.0,305.0 246.7,304.1 247.4,303.4 248.2,302.9 249.0,302.4 249.9,302.3 250.9,302.4 252.0,302.4 253.0,301.6 254.0,299.7 255.0,297.1 256.0,294.4 257.0,292.0 257.9,290.0 258.8,288.1 259.6,286.7 260.4,286.0 261.1,286.1 261.7,286.9 262.3,288.2 263.0,290.0 263.9,292.7 264.9,296.1 266.0,299.5 267.0,302.0 268.0,303.2 269.1,303.5 270.1,303.6 271.0,304.0 271.8,304.5 272.5,304.9 273.2,305.8 274.0,308.0 274.9,312.1 275.9,317.6 277.0,323.3 278.0,328.0 279.0,331.6 280.0,334.6 281.0,336.9 282.0,338.0 283.0,337.7 283.9,336.2 284.9,334.1 286.0,332.0 287.2,329.7 288.5,326.9 289.8,324.5 291.0,323.0 292.1,322.9 293.1,323.7 294.1,324.9 295.0,326.0 295.8,327.1 296.5,328.5 297.2,329.6 298.0,330.0 298.9,329.5 299.9,328.2 301.0,326.7 302.0,325.0 303.0,323.3 304.0,321.4 305.0,319.3 306.0,317.0 307.0,314.5 308.0,311.7 309.0,308.8 310.0,306.0 311.0,303.1 312.1,300.0 313.1,297.2 314.0,295.0 314.8,293.6 315.5,292.8 316.2,292.3 317.0,292.0 317.9,292.2 318.9,292.8 320.0,293.2 321.0,293.0 322.0,291.8 323.1,290.1 324.1,288.0 325.0,286.0 325.8,284.3 326.5,282.7 327.2,280.7 328.0,278.0 329.0,274.1 330.0,269.4 331.0,264.5 332.0,260.0 332.8,256.2 333.6,252.6 334.3,249.3 335.0,246.0 335.8,242.7 336.5,239.4 337.2,236.5 338.0,234.0 338.8,232.2 339.5,230.9 340.3,229.9 341.0,229.0 341.7,228.1 342.3,227.4 343.0,227.0 343.6,227.0 344.2,227.5 344.8,228.4 345.4,229.6 346.0,231.0 346.7,232.7 347.5,234.7 348.3,236.6 349.0,238.0 349.6,238.9 350.0,239.5 350.5,239.6 351.0,239.0 351.6,237.6 352.2,235.4 352.9,232.8 353.6,230.0 354.4,226.6 355.3,222.7 356.2,218.9 357.0,216.0 357.8,214.4 358.5,213.6 359.3,213.0 360.0,212.0 360.8,210.4 361.5,208.5 362.2,206.4 363.0,204.0 363.8,201.2 364.5,198.1 365.2,194.9 366.0,192.0 366.8,189.2 367.5,186.5 368.2,184.3 369.0,183.0 369.7,183.0 370.5,184.1 371.2,185.6 372.0,187.0 372.9,188.6 373.8,190.6 374.7,192.3 375.6,193.0 376.5,192.0 377.3,189.8 378.2,187.7 379.0,187.0 379.8,188.1 380.5,190.2 381.3,193.0 382.0,196.0 382.8,199.1 383.5,202.4 384.2,206.1 385.0,210.0 385.8,214.3 386.5,219.1 387.2,223.8 388.0,228.0 388.8,231.9 389.5,235.5 390.2,238.7 391.0,241.0 391.7,242.3 392.4,242.8 393.2,242.7 394.0,242.4 395.0,241.5 396.0,239.9 397.0,238.5 398.0,238.0 398.8,238.7 399.5,240.1 400.2,242.0 401.0,244.0 401.9,246.3 402.9,249.1 403.9,251.8 405.0,254.0 406.2,255.6 407.5,256.8 408.8,257.8 410.0,259.0 411.1,260.5 412.1,262.1 413.0,263.6 414.0,265.0 415.0,266.2 416.1,267.4 417.1,268.4 418.0,269.0 418.8,268.8 419.4,268.1 420.1,267.7 421.0,268.4 422.1,270.8 423.4,274.4 424.8,278.4 426.0,282.0 427.1,285.3 428.1,288.5 429.0,291.5 430.0,294.0 431.0,296.0 432.0,297.7 433.0,299.0 434.0,300.0 435.0,300.7 436.0,301.1 437.0,301.2 438.0,301.0 439.0,300.2 440.0,299.0 441.0,297.8 442.0,297.0 443.0,296.7 444.0,296.8 445.0,297.1 446.0,298.0 447.0,299.4 448.1,301.3 449.1,303.6 450.0,306.0 450.8,308.6 451.6,311.5 452.3,314.6 453.0,318.0 453.8,321.8 454.5,325.9 455.2,330.0 456.0,334.0 456.8,337.9 457.5,341.9 458.2,345.5 459.0,348.0 459.8,349.3 460.5,349.6 461.2,349.4 462.0,349.0 462.8,348.3 463.5,347.3 464.2,346.2 465.0,345.6 465.8,345.5 466.5,345.8 467.2,346.3 468.0,347.0 468.7,348.3 469.4,350.0 470.1,351.4 471.0,352.0 472.2,350.9 473.5,348.6 474.8,346.6 476.0,346.0 476.9,347.5 477.6,350.3 478.3,353.7 479.0,357.0 479.8,360.3 480.5,363.9 481.2,367.3 482.0,370.0 482.8,371.9 483.5,373.3 484.2,374.3 485.0,375.0 485.8,375.1 486.5,374.6 487.2,374.3 488.0,375.0 488.8,376.9 489.5,379.5 490.2,382.6 491.0,386.0 491.8,389.8 492.5,394.1 493.2,398.3 494.0,402.0 494.8,405.1 495.5,407.8 496.2,410.2 497.0,412.0 497.8,413.3 498.5,414.1 499.2,414.5 500.0,414.4 500.7,413.8 501.4,412.8 502.2,411.4 503.0,410.0 504.0,408.2 505.0,406.2 506.0,404.2 507.0,403.0 507.8,402.6 508.5,402.8 509.2,403.3 510.0,404.0 510.9,405.2 511.9,406.8 513.0,408.3 514.0,409.0 515.0,408.6 516.0,407.4 517.0,406.1 518.0,405.0 519.0,404.4 520.0,403.9 521.0,403.5 522.0,403.0 523.0,402.4 524.0,401.7 525.0,400.9 526.0,400.0 527.0,398.7 528.1,397.2 529.1,395.8 530.0,395.0 530.8,394.9 531.5,395.2 532.2,395.9 533.0,397.0 533.9,398.7 534.9,400.9 536.0,403.2 537.0,405.0 538.0,406.3 539.0,407.4 540.0,408.0 541.0,408.0 542.0,407.2 543.0,405.8 544.0,403.9 545.0,402.0 546.0,399.9 547.0,397.6 548.0,395.2 549.0,393.0 550.0,390.9 551.0,388.9 552.0,387.1 553.0,385.6 553.9,384.4 554.7,383.4 555.5,382.9 556.4,383.0 557.3,383.9 558.2,385.3 559.1,387.4 560.0,390.0 561.0,393.6 562.0,398.0 563.0,402.4 564.0,406.0 564.9,408.8 565.8,411.3 566.7,413.0 567.6,413.6 568.5,412.7 569.3,410.7 570.1,408.1 571.0,406.0 572.0,404.4 573.0,402.9 574.0,401.5 575.0,400.0 576.0,398.5 577.1,397.1 578.1,395.6 579.0,394.0 579.8,392.3 580.6,390.4 581.3,388.6 582.0,387.0 582.8,385.3 583.5,383.6 584.2,382.3 585.0,382.0 585.7,383.1 586.4,385.2 587.2,387.8 588.0,390.0 588.9,392.0 589.9,394.2 591.0,395.9 592.0,397.0 593.0,396.8 594.1,395.8 595.1,394.7 596.0,394.4 596.8,395.0 597.5,396.0 598.2,397.7 599.0,400.0 599.9,403.4 600.9,407.7 602.0,412.2 603.0,416.0 604.0,419.4 605.0,422.6 606.0,425.0 607.0,426.0 608.0,425.1 609.0,422.7 610.0,419.7 611.0,417.0 612.0,414.6 613.1,412.1 614.1,409.8 615.0,408.0 615.7,406.9 616.3,406.2 616.9,405.9 617.6,406.0 618.4,406.9 619.2,408.4 620.1,409.8 621.0,410.4 622.0,409.9 623.0,408.6 624.1,407.1 625.0,406.0 625.8,405.3 626.5,404.8 627.2,404.4 628.0,404.0 628.9,403.8 629.9,403.9 631.0,403.7 632.0,403.0 633.0,401.4 634.0,399.2 635.0,396.9 636.0,395.0 637.0,393.6 637.9,392.4 638.8,391.5 639.6,391.0 640.2,391.0 640.7,391.3 641.2,392.0 642.0,393.0 643.1,394.6 644.4,396.8 645.8,398.8 647.0,400.0 648.1,400.3 649.1,399.9 650.0,399.1 651.0,398.0 652.0,396.5 653.0,394.6 654.0,392.4 655.0,390.0 656.0,387.3 657.0,384.4 658.0,381.5 659.0,379.0 660.0,377.0 661.1,375.2 662.1,373.9 663.0,373.0 663.8,372.5 664.5,372.4 665.2,372.8 666.0,374.0 666.9,376.1 667.9,379.0 668.9,382.4 670.0,386.0 671.2,390.5 672.5,395.8 673.8,400.5 675.0,403.0 676.0,402.5 677.0,399.8 678.0,396.5 679.0,394.0 680.2,392.8 681.4,392.1 682.7,391.4 684.0,390.0 685.3,387.6 686.6,384.6 687.8,381.5 689.0,379.0 690.1,377.0 691.1,375.2 692.1,374.0 693.0,373.6 693.8,374.3 694.5,375.8 695.2,377.8 696.0,380.0 696.9,382.7 697.9,386.0 699.0,389.0 700.0,391.0 701.0,391.3 702.0,390.6 703.0,389.8 704.0,390.0 705.0,391.5 706.0,393.7 707.0,396.5 708.0,400.0 709.0,404.6 710.1,410.2 711.1,415.8 712.0,420.0 712.8,422.9 713.5,424.9 714.2,426.0 715.0,426.0 715.9,424.5 716.9,421.7 718.0,418.5 719.0,416.0 720.0,414.2 721.0,412.6 722.0,411.5 723.0,411.0 724.0,411.4 725.0,412.4 726.0,413.8 727.0,415.0 728.0,416.2 729.0,417.6 730.0,418.6 731.0,419.0 732.0,418.2 733.0,416.7 734.0,415.0 735.0,414.0 736.0,414.0 737.0,414.5 738.0,415.0 739.0,415.0 740.0,414.1 741.1,412.8 742.1,411.2 743.0,410.0 743.8,408.9 744.5,407.8 745.2,407.1 746.0,407.0 746.9,407.9 747.9,409.4 749.0,411.3 750.0,413.0 751.0,414.6 752.0,416.3 753.0,417.9 754.0,419.0 755.0,419.8 756.0,420.3 757.0,420.4 758.0,420.0 759.0,418.9 760.0,417.1 761.0,415.1 762.0,413.0 763.0,410.8 764.0,408.4 765.0,406.0 766.0,404.0 767.0,402.4 768.1,401.0 769.1,399.9 770.0,399.0 770.8,398.3 771.5,397.7 772.2,397.5 773.0,398.0 774.0,399.2 775.0,401.0 776.0,403.3 777.0,406.0 777.8,409.4 778.6,413.4 779.3,417.5 780.0,421.0 780.7,424.0 781.4,426.8 782.2,428.9 783.0,430.0 783.9,429.6 784.9,428.0 786.0,425.9 787.0,424.0 788.0,422.2 789.1,420.1 790.1,418.3 791.0,417.0 791.8,416.7 792.6,417.0 793.3,417.3 794.0,417.0 794.7,415.8 795.4,414.0 796.2,412.0 797.0,410.0 798.0,407.7 799.0,405.1 800.0,402.9 801.0,402.0 801.8,402.9 802.6,404.9 803.3,407.6 804.0,410.0 804.7,412.4 805.4,415.0 806.2,417.4 807.0,419.0 807.9,419.4 808.9,419.0 810.0,418.6 811.0,419.0 812.0,420.4 813.0,422.2 814.0,424.8 815.0,428.0 816.0,432.5 817.0,438.0 818.0,443.5 819.0,448.0 820.0,451.4 821.0,454.3 822.0,456.3 823.0,457.0 824.0,456.0 825.0,453.5 826.0,450.5 827.0,448.0 828.0,445.9 829.1,443.8 830.1,442.1 831.0,441.0 831.8,440.8 832.5,441.2 833.2,442.0 834.0,443.0 834.9,444.4 835.9,446.2 837.0,448.0 838.0,449.0 839.0,449.0 840.0,448.4 841.0,447.6 842.0,447.0 843.0,446.6 844.1,446.3 845.1,446.1 846.0,446.0 846.8,446.3 847.6,446.9 848.3,447.3 849.0,447.0 849.8,445.7 850.5,443.8 851.2,441.7 852.0,440.0 852.7,438.7 853.4,437.6 854.2,437.0 855.0,437.0 855.9,438.0 856.9,439.8 858.0,441.9 859.0,444.0 860.0,446.1 861.0,448.3 862.0,450.4 863.0,452.0 864.0,453.2 865.0,454.0 866.0,454.3 867.0,454.0 868.0,452.8 869.0,450.8 870.0,448.4 871.0,446.0 872.0,443.4 873.0,440.4 874.0,437.5 875.0,435.0 876.0,432.8 877.1,430.8 878.1,429.1 879.0,428.0 879.8,427.5 880.5,427.4 881.2,427.9 882.0,429.0 883.0,431.0 884.0,433.7 885.0,436.8 886.0,440.0 886.8,443.5 887.6,447.2 888.3,450.9 889.0,454.0 889.7,456.6 890.4,458.8 891.2,460.4 892.0,461.0 892.9,460.2 893.9,458.4 895.0,456.1 896.0,454.0 897.0,452.1 898.1,450.0 899.1,448.2 900.0,447.0 900.8,446.9 901.6,447.6 902.3,448.3 903.0,448.0 903.8,446.4 904.5,444.0 905.2,441.3 906.0,439.0 906.8,436.8 907.5,434.7 908.2,433.0 909.0,432.4 909.7,433.2 910.4,435.2 911.2,437.6 912.0,440.0 912.9,442.5 913.9,445.4 915.0,448.1 916.0,450.0 917.0,450.8 918.1,450.9 919.1,450.8 920.0,451.0 920.8,451.4 921.6,451.9 922.3,452.7 923.0,454.0 923.6,456.2 924.2,459.2 924.7,462.0 925.0,464.0" fill="none" stroke="#0072B2" stroke-width="2.08" stroke-linejoin="round" stroke-linecap="butt"/>
<polygon points="925.6,404.1 927.0,403.2 927.9,411.0 929.4,412.2 930.6,415.5 932.4,414.3 934.2,409.5 936.0,407.4 937.2,403.2 939.0,400.2 941.4,401.1 943.2,403.8 944.8,405.6 944.8,477.6 942.4,475.4 939.6,473.8 936.9,478.7 934.1,485.3 931.6,489.0 930.4,487.5 928.8,481.5 926.6,468.0 925.2,455.0 925.4,404.1" fill="#0072B2" stroke="#0072B2" stroke-width="1"/>
<g fill="#ff0000"><circle cx="927.0" cy="452.0" r="2.75"/><circle cx="928.4" cy="452.4" r="2.75"/><circle cx="930.0" cy="452.4" r="2.75"/><circle cx="932.0" cy="452.0" r="2.75"/><circle cx="933.2" cy="451.2" r="2.75"/><circle cx="934.4" cy="450.4" r="2.75"/><circle cx="935.6" cy="449.8" r="2.75"/><circle cx="936.4" cy="449.4" r="2.75"/><circle cx="935.0" cy="451.0" r="2.75"/></g>
<rect x="79.5" y="15.5" width="906.0" height="527.0" fill="none" stroke="#000" stroke-width="1.1"/>
<g stroke="#000" stroke-width="1.1"><line x1="176.5" y1="542.5" x2="176.5" y2="547.4"/><line x1="284.5" y1="542.5" x2="284.5" y2="547.4"/><line x1="392.5" y1="542.5" x2="392.5" y2="547.4"/><line x1="500.5" y1="542.5" x2="500.5" y2="547.4"/><line x1="608.5" y1="542.5" x2="608.5" y2="547.4"/><line x1="716.5" y1="542.5" x2="716.5" y2="547.4"/><line x1="824.5" y1="542.5" x2="824.5" y2="547.4"/><line x1="932.5" y1="542.5" x2="932.5" y2="547.4"/><line x1="74.6" y1="498.5" x2="79.5" y2="498.5"/><line x1="74.6" y1="386.5" x2="79.5" y2="386.5"/><line x1="74.6" y1="274.5" x2="79.5" y2="274.5"/><line x1="74.6" y1="162.5" x2="79.5" y2="162.5"/><line x1="74.6" y1="50.5" x2="79.5" y2="50.5"/></g>
<text x="176.5" y="561.8" text-anchor="middle">2019</text><text x="284.5" y="561.8" text-anchor="middle">2020</text><text x="392.5" y="561.8" text-anchor="middle">2021</text><text x="500.5" y="561.8" text-anchor="middle">2022</text><text x="608.5" y="561.8" text-anchor="middle">2023</text><text x="716.5" y="561.8" text-anchor="middle">2024</text><text x="824.5" y="561.8" text-anchor="middle">2025</text><text x="932.5" y="561.8" text-anchor="middle">2026</text><text x="69.6" y="504.4" text-anchor="end">0</text><text x="69.6" y="392.4" text-anchor="end">1000</text><text x="69.6" y="280.4" text-anchor="end">2000</text><text x="69.6" y="168.4" text-anchor="end">3000</text><text x="69.6" y="56.4" text-anchor="end">4000</text>
<text x="532.5" y="581.5" text-anchor="middle">ds</text>
<text transform="translate(24.8,278.5) rotate(-90)" text-anchor="middle">y</text>
</svg>
</body></html>
